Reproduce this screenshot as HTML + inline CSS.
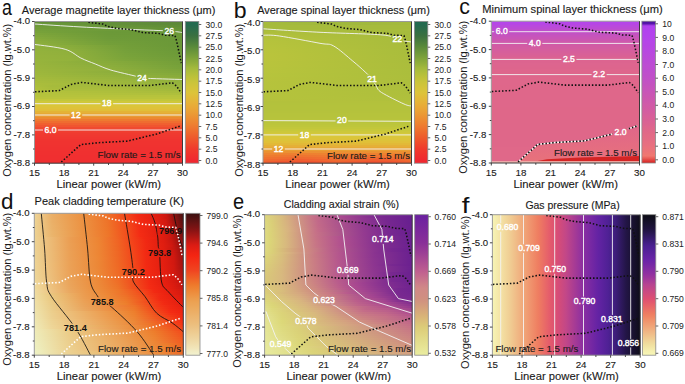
<!DOCTYPE html>
<html><head><meta charset="utf-8"><style>html,body{margin:0;padding:0;background:#fff;}svg{display:block}</style></head>
<body><svg width="685" height="384" viewBox="0 0 685 384" font-family="'Liberation Sans', sans-serif">
<defs><clipPath id="clip1"><rect x="34.5" y="21.5" width="148.0" height="141.7"/></clipPath><linearGradient id="g2"><stop offset="0.000" stop-color="#608d38"/><stop offset="0.497" stop-color="#618e38"/><stop offset="0.993" stop-color="#5c853c"/></linearGradient><linearGradient id="g3"><stop offset="0.000" stop-color="#6a9838"/><stop offset="0.993" stop-color="#5d8939"/></linearGradient><linearGradient id="g4"><stop offset="0.000" stop-color="#6e9b39"/><stop offset="0.993" stop-color="#608d38"/></linearGradient><linearGradient id="g5"><stop offset="0.000" stop-color="#729e39"/><stop offset="0.993" stop-color="#649138"/></linearGradient><linearGradient id="g6"><stop offset="0.000" stop-color="#75a03a"/><stop offset="0.993" stop-color="#679538"/></linearGradient><linearGradient id="g7"><stop offset="0.000" stop-color="#78a23a"/><stop offset="0.497" stop-color="#6b9938"/><stop offset="0.993" stop-color="#6a9738"/></linearGradient><linearGradient id="g8"><stop offset="0.000" stop-color="#7da53a"/><stop offset="0.497" stop-color="#6c9938"/><stop offset="0.993" stop-color="#6b9838"/></linearGradient><linearGradient id="g9"><stop offset="0.000" stop-color="#81a73b"/><stop offset="0.497" stop-color="#6d9a38"/><stop offset="0.993" stop-color="#6b9938"/></linearGradient><linearGradient id="g10"><stop offset="0.000" stop-color="#85aa3b"/><stop offset="0.497" stop-color="#6e9b39"/><stop offset="0.993" stop-color="#6b9838"/></linearGradient><linearGradient id="g11"><stop offset="0.000" stop-color="#89ac3b"/><stop offset="0.497" stop-color="#709c39"/><stop offset="0.993" stop-color="#6a9838"/></linearGradient><linearGradient id="g12"><stop offset="0.000" stop-color="#8cae3c"/><stop offset="0.497" stop-color="#729e39"/><stop offset="0.993" stop-color="#6a9838"/></linearGradient><linearGradient id="g13"><stop offset="0.000" stop-color="#8fb03c"/><stop offset="0.497" stop-color="#749f39"/><stop offset="0.993" stop-color="#6a9838"/></linearGradient><linearGradient id="g14"><stop offset="0.000" stop-color="#91b13c"/><stop offset="0.242" stop-color="#88ac3b"/><stop offset="0.617" stop-color="#739e39"/><stop offset="0.993" stop-color="#6a9838"/></linearGradient><linearGradient id="g15"><stop offset="0.000" stop-color="#92b13c"/><stop offset="0.242" stop-color="#8bad3c"/><stop offset="0.617" stop-color="#749f39"/><stop offset="0.993" stop-color="#6b9938"/></linearGradient><linearGradient id="g16"><stop offset="0.000" stop-color="#93b23c"/><stop offset="0.242" stop-color="#8eaf3c"/><stop offset="0.617" stop-color="#75a03a"/><stop offset="0.993" stop-color="#6b9938"/></linearGradient><linearGradient id="g17"><stop offset="0.000" stop-color="#94b23c"/><stop offset="0.242" stop-color="#90b03c"/><stop offset="0.617" stop-color="#76a13a"/><stop offset="0.993" stop-color="#6c9a38"/></linearGradient><linearGradient id="g18"><stop offset="0.000" stop-color="#95b23c"/><stop offset="0.242" stop-color="#91b03c"/><stop offset="0.617" stop-color="#78a23a"/><stop offset="0.993" stop-color="#6d9a38"/></linearGradient><linearGradient id="g19"><stop offset="0.000" stop-color="#96b33c"/><stop offset="0.242" stop-color="#92b13c"/><stop offset="0.617" stop-color="#79a33a"/><stop offset="0.993" stop-color="#6e9b39"/></linearGradient><linearGradient id="g20"><stop offset="0.000" stop-color="#96b33c"/><stop offset="0.242" stop-color="#93b13c"/><stop offset="0.617" stop-color="#7ba43a"/><stop offset="0.993" stop-color="#709c39"/></linearGradient><linearGradient id="g21"><stop offset="0.000" stop-color="#97b43c"/><stop offset="0.242" stop-color="#93b23c"/><stop offset="0.617" stop-color="#7da53a"/><stop offset="0.993" stop-color="#719d39"/></linearGradient><linearGradient id="g22"><stop offset="0.000" stop-color="#98b43c"/><stop offset="0.497" stop-color="#87ab3b"/><stop offset="0.993" stop-color="#739e39"/></linearGradient><linearGradient id="g23"><stop offset="0.000" stop-color="#99b43c"/><stop offset="0.497" stop-color="#8aac3b"/><stop offset="0.993" stop-color="#749f39"/></linearGradient><linearGradient id="g24"><stop offset="0.000" stop-color="#9ab53c"/><stop offset="0.497" stop-color="#8cae3c"/><stop offset="0.993" stop-color="#76a13a"/></linearGradient><linearGradient id="g25"><stop offset="0.000" stop-color="#9bb53c"/><stop offset="0.497" stop-color="#8faf3c"/><stop offset="0.993" stop-color="#78a23a"/></linearGradient><linearGradient id="g26"><stop offset="0.000" stop-color="#9cb63c"/><stop offset="0.497" stop-color="#91b03c"/><stop offset="0.993" stop-color="#7ca43a"/></linearGradient><linearGradient id="g27"><stop offset="0.000" stop-color="#9eb73c"/><stop offset="0.993" stop-color="#7fa63b"/></linearGradient><linearGradient id="g28"><stop offset="0.000" stop-color="#9fb83c"/><stop offset="0.993" stop-color="#83a93b"/></linearGradient><linearGradient id="g29"><stop offset="0.000" stop-color="#a1b93c"/><stop offset="0.993" stop-color="#88ab3b"/></linearGradient><linearGradient id="g30"><stop offset="0.000" stop-color="#a4ba3c"/><stop offset="0.993" stop-color="#8cae3c"/></linearGradient><linearGradient id="g31"><stop offset="0.000" stop-color="#a6bb3c"/><stop offset="0.993" stop-color="#91b03c"/></linearGradient><linearGradient id="g32"><stop offset="0.000" stop-color="#a8bc3c"/><stop offset="0.993" stop-color="#93b23c"/></linearGradient><linearGradient id="g33"><stop offset="0.000" stop-color="#abbd3c"/><stop offset="0.242" stop-color="#a5bb3c"/><stop offset="0.993" stop-color="#96b33c"/></linearGradient><linearGradient id="g34"><stop offset="0.000" stop-color="#adbf3c"/><stop offset="0.121" stop-color="#a6bb3c"/><stop offset="0.550" stop-color="#a4ba3c"/><stop offset="0.993" stop-color="#99b53c"/></linearGradient><linearGradient id="g35"><stop offset="0.000" stop-color="#b0c03c"/><stop offset="0.121" stop-color="#a8bc3c"/><stop offset="0.550" stop-color="#a8bc3c"/><stop offset="0.993" stop-color="#9db73c"/></linearGradient><linearGradient id="g36"><stop offset="0.000" stop-color="#b2c13c"/><stop offset="0.121" stop-color="#abbe3c"/><stop offset="0.550" stop-color="#abbe3c"/><stop offset="0.993" stop-color="#a2b93c"/></linearGradient><linearGradient id="g37"><stop offset="0.000" stop-color="#b4c23c"/><stop offset="0.993" stop-color="#a8bc3c"/></linearGradient><linearGradient id="g38"><stop offset="0.000" stop-color="#b5c33c"/><stop offset="0.993" stop-color="#aebf3c"/></linearGradient><mask id="m39" maskUnits="userSpaceOnUse" x="0" y="0" width="685" height="384"><rect x="0" y="0" width="685" height="384" fill="#fff"/><rect x="162.9" y="26.8" width="12.6" height="8.5" fill="#000"/><rect x="135.7" y="73.8" width="12.6" height="8.5" fill="#000"/><rect x="100.5" y="99.5" width="12.6" height="8.5" fill="#000"/><rect x="69.6" y="110.8" width="12.6" height="8.5" fill="#000"/><rect x="43.0" y="125.8" width="15.0" height="8.5" fill="#000"/></mask><linearGradient id="cb40" x1="0" y1="0" x2="0" y2="1"><stop offset="0.000" stop-color="#236a50"/><stop offset="0.025" stop-color="#256a4f"/><stop offset="0.050" stop-color="#2c6c4a"/><stop offset="0.075" stop-color="#336e45"/><stop offset="0.100" stop-color="#3a7040"/><stop offset="0.125" stop-color="#44783e"/><stop offset="0.150" stop-color="#4e803c"/><stop offset="0.175" stop-color="#58893a"/><stop offset="0.200" stop-color="#64913a"/><stop offset="0.225" stop-color="#70993a"/><stop offset="0.250" stop-color="#7ba13a"/><stop offset="0.275" stop-color="#88a93a"/><stop offset="0.300" stop-color="#94b03b"/><stop offset="0.325" stop-color="#a1b83c"/><stop offset="0.350" stop-color="#acbd3c"/><stop offset="0.375" stop-color="#b6c03b"/><stop offset="0.400" stop-color="#c0c23a"/><stop offset="0.425" stop-color="#c9c43a"/><stop offset="0.450" stop-color="#d0c43a"/><stop offset="0.475" stop-color="#d6c43a"/><stop offset="0.500" stop-color="#dcc43a"/><stop offset="0.525" stop-color="#e0be39"/><stop offset="0.550" stop-color="#e3b839"/><stop offset="0.575" stop-color="#e7b138"/><stop offset="0.600" stop-color="#e9aa37"/><stop offset="0.625" stop-color="#eaa336"/><stop offset="0.650" stop-color="#eb9b35"/><stop offset="0.675" stop-color="#ec9233"/><stop offset="0.700" stop-color="#ed8932"/><stop offset="0.725" stop-color="#ee8031"/><stop offset="0.750" stop-color="#ee7630"/><stop offset="0.775" stop-color="#ee6c2e"/><stop offset="0.800" stop-color="#ee622d"/><stop offset="0.825" stop-color="#ee582c"/><stop offset="0.850" stop-color="#ef4e2c"/><stop offset="0.875" stop-color="#ef442c"/><stop offset="0.900" stop-color="#f03a2c"/><stop offset="0.925" stop-color="#f0352d"/><stop offset="0.950" stop-color="#f02f2e"/><stop offset="0.975" stop-color="#f02930"/><stop offset="1.000" stop-color="#f02830"/></linearGradient><clipPath id="clip41"><rect x="263.0" y="21.5" width="148.5" height="141.7"/></clipPath><linearGradient id="g42"><stop offset="0.000" stop-color="#a6bb3c"/><stop offset="0.242" stop-color="#9cb63c"/><stop offset="0.993" stop-color="#a3ba3c"/></linearGradient><linearGradient id="g43"><stop offset="0.000" stop-color="#a6bb3c"/><stop offset="0.497" stop-color="#a0b83c"/><stop offset="0.993" stop-color="#a4ba3c"/></linearGradient><linearGradient id="g44"><stop offset="0.000" stop-color="#adbe3c"/><stop offset="0.993" stop-color="#a6bb3c"/></linearGradient><linearGradient id="g45"><stop offset="0.000" stop-color="#b0c03c"/><stop offset="0.993" stop-color="#a7bb3c"/></linearGradient><linearGradient id="g46"><stop offset="0.000" stop-color="#b3c13c"/><stop offset="0.993" stop-color="#a7bb3c"/></linearGradient><linearGradient id="g47"><stop offset="0.000" stop-color="#b4c23c"/><stop offset="0.993" stop-color="#a7bc3c"/></linearGradient><linearGradient id="g48"><stop offset="0.000" stop-color="#b5c33c"/><stop offset="0.993" stop-color="#a8bc3c"/></linearGradient><linearGradient id="g49"><stop offset="0.000" stop-color="#b6c33c"/><stop offset="0.993" stop-color="#a8bc3c"/></linearGradient><linearGradient id="g50"><stop offset="0.000" stop-color="#b7c33c"/><stop offset="0.993" stop-color="#a8bc3c"/></linearGradient><linearGradient id="g51"><stop offset="0.000" stop-color="#b7c43c"/><stop offset="0.993" stop-color="#a9bc3c"/></linearGradient><linearGradient id="g52"><stop offset="0.000" stop-color="#b8c43c"/><stop offset="0.993" stop-color="#a9bc3c"/></linearGradient><linearGradient id="g53"><stop offset="0.000" stop-color="#b9c43c"/><stop offset="0.993" stop-color="#a9bd3c"/></linearGradient><linearGradient id="g54"><stop offset="0.000" stop-color="#b9c43c"/><stop offset="0.993" stop-color="#a9bd3c"/></linearGradient><linearGradient id="g55"><stop offset="0.000" stop-color="#bac43c"/><stop offset="0.993" stop-color="#a9bd3c"/></linearGradient><linearGradient id="g56"><stop offset="0.000" stop-color="#bac43c"/><stop offset="0.993" stop-color="#aabd3c"/></linearGradient><linearGradient id="g57"><stop offset="0.000" stop-color="#bac43c"/><stop offset="0.993" stop-color="#aabd3c"/></linearGradient><linearGradient id="g58"><stop offset="0.000" stop-color="#bac43c"/><stop offset="0.993" stop-color="#aabd3c"/></linearGradient><linearGradient id="g59"><stop offset="0.000" stop-color="#b9c43c"/><stop offset="0.993" stop-color="#aabd3c"/></linearGradient><linearGradient id="g60"><stop offset="0.000" stop-color="#b9c43c"/><stop offset="0.993" stop-color="#abbd3c"/></linearGradient><linearGradient id="g61"><stop offset="0.000" stop-color="#b9c43c"/><stop offset="0.993" stop-color="#abbd3c"/></linearGradient><linearGradient id="g62"><stop offset="0.000" stop-color="#b8c43c"/><stop offset="0.993" stop-color="#abbd3c"/></linearGradient><linearGradient id="g63"><stop offset="0.000" stop-color="#b8c43c"/><stop offset="0.993" stop-color="#abbe3c"/></linearGradient><linearGradient id="g64"><stop offset="0.000" stop-color="#b8c43c"/><stop offset="0.993" stop-color="#abbe3c"/></linearGradient><linearGradient id="g65"><stop offset="0.000" stop-color="#b7c43c"/><stop offset="0.993" stop-color="#abbe3c"/></linearGradient><linearGradient id="g66"><stop offset="0.000" stop-color="#b7c43c"/><stop offset="0.993" stop-color="#acbe3c"/></linearGradient><linearGradient id="g67"><stop offset="0.000" stop-color="#b7c33c"/><stop offset="0.993" stop-color="#acbe3c"/></linearGradient><linearGradient id="g68"><stop offset="0.000" stop-color="#b7c33c"/><stop offset="0.993" stop-color="#acbe3c"/></linearGradient><linearGradient id="g69"><stop offset="0.000" stop-color="#b6c33c"/><stop offset="0.993" stop-color="#acbe3c"/></linearGradient><linearGradient id="g70"><stop offset="0.000" stop-color="#b6c33c"/><stop offset="0.993" stop-color="#adbe3c"/></linearGradient><linearGradient id="g71"><stop offset="0.000" stop-color="#b6c33c"/><stop offset="0.993" stop-color="#adbe3c"/></linearGradient><linearGradient id="g72"><stop offset="0.000" stop-color="#b6c33c"/><stop offset="0.993" stop-color="#adbf3c"/></linearGradient><linearGradient id="g73"><stop offset="0.000" stop-color="#b5c33c"/><stop offset="0.993" stop-color="#adbf3c"/></linearGradient><linearGradient id="g74"><stop offset="0.000" stop-color="#b5c33c"/><stop offset="0.993" stop-color="#aebf3c"/></linearGradient><linearGradient id="g75"><stop offset="0.000" stop-color="#b5c33c"/><stop offset="0.993" stop-color="#aebf3c"/></linearGradient><linearGradient id="g76"><stop offset="0.000" stop-color="#b5c33c"/><stop offset="0.993" stop-color="#afbf3c"/></linearGradient><linearGradient id="g77"><stop offset="0.000" stop-color="#b5c33c"/><stop offset="0.993" stop-color="#afc03c"/></linearGradient><linearGradient id="g78"><stop offset="0.000" stop-color="#b5c23c"/><stop offset="0.993" stop-color="#b0c03c"/></linearGradient><linearGradient id="g79"><stop offset="0.000" stop-color="#ed8631"/><stop offset="0.242" stop-color="#ee7f30"/><stop offset="0.430" stop-color="#ed8330"/><stop offset="0.711" stop-color="#ee7f30"/><stop offset="0.993" stop-color="#ed8631"/></linearGradient><linearGradient id="g80"><stop offset="0.000" stop-color="#ee7d30"/><stop offset="0.242" stop-color="#ef7330"/><stop offset="0.430" stop-color="#ee7930"/><stop offset="0.711" stop-color="#ef7330"/><stop offset="0.993" stop-color="#ee7c30"/></linearGradient><linearGradient id="g81"><stop offset="0.000" stop-color="#ef7430"/><stop offset="0.242" stop-color="#f06830"/><stop offset="0.430" stop-color="#ef7030"/><stop offset="0.564" stop-color="#ef7030"/><stop offset="0.779" stop-color="#f06730"/><stop offset="0.993" stop-color="#ef7430"/></linearGradient><linearGradient id="g82"><stop offset="0.000" stop-color="#ef6c30"/><stop offset="0.242" stop-color="#f05d30"/><stop offset="0.430" stop-color="#f06730"/><stop offset="0.497" stop-color="#ef6c30"/><stop offset="0.738" stop-color="#f05d30"/><stop offset="0.859" stop-color="#f05f30"/><stop offset="0.993" stop-color="#ef6c30"/></linearGradient><linearGradient id="g83"><stop offset="0.000" stop-color="#f06430"/><stop offset="0.121" stop-color="#f05630"/><stop offset="0.336" stop-color="#f05530"/><stop offset="0.497" stop-color="#f06430"/><stop offset="0.738" stop-color="#f05230"/><stop offset="0.859" stop-color="#f05530"/><stop offset="0.993" stop-color="#f06430"/></linearGradient><linearGradient id="g84"><stop offset="0.000" stop-color="#f05c30"/><stop offset="0.121" stop-color="#f04d30"/><stop offset="0.336" stop-color="#f04c30"/><stop offset="0.497" stop-color="#f05c30"/><stop offset="0.738" stop-color="#f04830"/><stop offset="0.859" stop-color="#f04b30"/><stop offset="0.993" stop-color="#f05b30"/></linearGradient><mask id="m85" maskUnits="userSpaceOnUse" x="0" y="0" width="685" height="384"><rect x="0" y="0" width="685" height="384" fill="#fff"/><rect x="390.9" y="35.5" width="12.6" height="8.5" fill="#000"/><rect x="365.7" y="74.7" width="12.6" height="8.5" fill="#000"/><rect x="335.6" y="116.5" width="12.6" height="8.5" fill="#000"/><rect x="298.2" y="130.7" width="12.6" height="8.5" fill="#000"/><rect x="272.2" y="144.8" width="12.6" height="8.5" fill="#000"/></mask><linearGradient id="cb86" x1="0" y1="0" x2="0" y2="1"><stop offset="0.000" stop-color="#236a50"/><stop offset="0.025" stop-color="#256a4f"/><stop offset="0.050" stop-color="#2c6c4a"/><stop offset="0.075" stop-color="#336e45"/><stop offset="0.100" stop-color="#3a7040"/><stop offset="0.125" stop-color="#44783e"/><stop offset="0.150" stop-color="#4e803c"/><stop offset="0.175" stop-color="#58893a"/><stop offset="0.200" stop-color="#64913a"/><stop offset="0.225" stop-color="#70993a"/><stop offset="0.250" stop-color="#7ba13a"/><stop offset="0.275" stop-color="#88a93a"/><stop offset="0.300" stop-color="#94b03b"/><stop offset="0.325" stop-color="#a1b83c"/><stop offset="0.350" stop-color="#acbd3c"/><stop offset="0.375" stop-color="#b6c03b"/><stop offset="0.400" stop-color="#c0c23a"/><stop offset="0.425" stop-color="#c9c43a"/><stop offset="0.450" stop-color="#d0c43a"/><stop offset="0.475" stop-color="#d6c43a"/><stop offset="0.500" stop-color="#dcc43a"/><stop offset="0.525" stop-color="#e0be39"/><stop offset="0.550" stop-color="#e3b839"/><stop offset="0.575" stop-color="#e7b138"/><stop offset="0.600" stop-color="#e9aa37"/><stop offset="0.625" stop-color="#eaa336"/><stop offset="0.650" stop-color="#eb9b35"/><stop offset="0.675" stop-color="#ec9233"/><stop offset="0.700" stop-color="#ed8932"/><stop offset="0.725" stop-color="#ee8031"/><stop offset="0.750" stop-color="#ee7630"/><stop offset="0.775" stop-color="#ee6c2e"/><stop offset="0.800" stop-color="#ee622d"/><stop offset="0.825" stop-color="#ee582c"/><stop offset="0.850" stop-color="#ef4e2c"/><stop offset="0.875" stop-color="#ef442c"/><stop offset="0.900" stop-color="#f03a2c"/><stop offset="0.925" stop-color="#f0352d"/><stop offset="0.950" stop-color="#f02f2e"/><stop offset="0.975" stop-color="#f02930"/><stop offset="1.000" stop-color="#f02830"/></linearGradient><clipPath id="clip87"><rect x="491.3" y="21.2" width="148.2" height="141.8"/></clipPath><linearGradient id="csal" x1="0" y1="0" x2="0" y2="1"><stop offset="0" stop-color="#e0668a"/><stop offset="1" stop-color="#e8727a"/></linearGradient><mask id="m88" maskUnits="userSpaceOnUse" x="0" y="0" width="685" height="384"><rect x="0" y="0" width="685" height="384" fill="#fff"/><rect x="494.2" y="27.4" width="15.0" height="8.5" fill="#000"/><rect x="527.3" y="39.1" width="15.0" height="8.5" fill="#000"/><rect x="561.4" y="55.1" width="15.0" height="8.5" fill="#000"/><rect x="591.6" y="70.3" width="15.0" height="8.5" fill="#000"/></mask><mask id="m89" maskUnits="userSpaceOnUse" x="0" y="0" width="685" height="384"><rect x="0" y="0" width="685" height="384" fill="#fff"/><rect x="612.6" y="128.2" width="16.0" height="8.5" fill="#000"/></mask><linearGradient id="cb90" x1="0" y1="0" x2="0" y2="1"><stop offset="0.000" stop-color="#4a10a0"/><stop offset="0.017" stop-color="#5616aa"/><stop offset="0.033" stop-color="#af40ef"/><stop offset="0.050" stop-color="#b141ef"/><stop offset="0.067" stop-color="#b242ee"/><stop offset="0.083" stop-color="#b343ed"/><stop offset="0.100" stop-color="#b343ed"/><stop offset="0.117" stop-color="#b444eb"/><stop offset="0.133" stop-color="#b545e9"/><stop offset="0.150" stop-color="#b646e7"/><stop offset="0.167" stop-color="#b646e5"/><stop offset="0.183" stop-color="#b747e3"/><stop offset="0.200" stop-color="#b848e1"/><stop offset="0.217" stop-color="#b848df"/><stop offset="0.233" stop-color="#b949dd"/><stop offset="0.250" stop-color="#ba4ada"/><stop offset="0.267" stop-color="#bb4bd8"/><stop offset="0.283" stop-color="#bb4bd6"/><stop offset="0.300" stop-color="#bc4cd4"/><stop offset="0.317" stop-color="#bd4dd2"/><stop offset="0.333" stop-color="#bd4dd0"/><stop offset="0.350" stop-color="#be4ece"/><stop offset="0.367" stop-color="#bf4fcc"/><stop offset="0.383" stop-color="#bf4fca"/><stop offset="0.400" stop-color="#c050c8"/><stop offset="0.417" stop-color="#c251c5"/><stop offset="0.433" stop-color="#c352c2"/><stop offset="0.450" stop-color="#c453bf"/><stop offset="0.467" stop-color="#c654bc"/><stop offset="0.483" stop-color="#c755ba"/><stop offset="0.500" stop-color="#c955b7"/><stop offset="0.517" stop-color="#ca56b4"/><stop offset="0.533" stop-color="#cb57b1"/><stop offset="0.550" stop-color="#cd58ae"/><stop offset="0.567" stop-color="#ce59ac"/><stop offset="0.583" stop-color="#d05aa9"/><stop offset="0.600" stop-color="#d15ba6"/><stop offset="0.617" stop-color="#d25ca3"/><stop offset="0.633" stop-color="#d45da1"/><stop offset="0.650" stop-color="#d55e9e"/><stop offset="0.667" stop-color="#d75f9b"/><stop offset="0.683" stop-color="#d86098"/><stop offset="0.700" stop-color="#d96195"/><stop offset="0.717" stop-color="#db6393"/><stop offset="0.733" stop-color="#dc6490"/><stop offset="0.750" stop-color="#de668d"/><stop offset="0.767" stop-color="#df678a"/><stop offset="0.783" stop-color="#e06888"/><stop offset="0.800" stop-color="#e26a86"/><stop offset="0.817" stop-color="#e36b85"/><stop offset="0.833" stop-color="#e46c84"/><stop offset="0.850" stop-color="#e66e82"/><stop offset="0.867" stop-color="#e76f81"/><stop offset="0.883" stop-color="#e9717e"/><stop offset="0.900" stop-color="#eb737b"/><stop offset="0.917" stop-color="#ec7477"/><stop offset="0.933" stop-color="#ee7674"/><stop offset="0.950" stop-color="#f07870"/><stop offset="0.967" stop-color="#e95d58"/><stop offset="0.983" stop-color="#e03f3c"/><stop offset="1.000" stop-color="#d82020"/></linearGradient><clipPath id="clip91"><rect x="34.3" y="213.3" width="149.0" height="141.89999999999998"/></clipPath><linearGradient id="g92"><stop offset="0.000" stop-color="#eed597"/><stop offset="0.120" stop-color="#eaaf67"/><stop offset="0.333" stop-color="#ec9040"/><stop offset="0.493" stop-color="#ee7028"/><stop offset="0.613" stop-color="#f2481b"/><stop offset="0.693" stop-color="#f22a13"/><stop offset="0.840" stop-color="#da1b10"/><stop offset="0.880" stop-color="#cb1710"/><stop offset="1.000" stop-color="#401010"/></linearGradient><linearGradient id="g93"><stop offset="0.000" stop-color="#eed597"/><stop offset="0.120" stop-color="#eaaf67"/><stop offset="0.333" stop-color="#ec9040"/><stop offset="0.493" stop-color="#ee7128"/><stop offset="0.613" stop-color="#f2491b"/><stop offset="0.693" stop-color="#f22a13"/><stop offset="0.760" stop-color="#ec2311"/><stop offset="0.880" stop-color="#cf1810"/><stop offset="1.000" stop-color="#421010"/></linearGradient><linearGradient id="g94"><stop offset="0.000" stop-color="#eed596"/><stop offset="0.120" stop-color="#eaaf67"/><stop offset="0.333" stop-color="#ec9040"/><stop offset="0.493" stop-color="#ee7228"/><stop offset="0.613" stop-color="#f24a1b"/><stop offset="0.693" stop-color="#f32b14"/><stop offset="0.840" stop-color="#dd1c10"/><stop offset="0.893" stop-color="#c61710"/><stop offset="1.000" stop-color="#471010"/></linearGradient><linearGradient id="g95"><stop offset="0.000" stop-color="#edd496"/><stop offset="0.120" stop-color="#eab068"/><stop offset="0.333" stop-color="#ec9040"/><stop offset="0.493" stop-color="#ee7328"/><stop offset="0.613" stop-color="#f24b1c"/><stop offset="0.707" stop-color="#f22913"/><stop offset="0.773" stop-color="#ec2211"/><stop offset="0.880" stop-color="#d21910"/><stop offset="1.000" stop-color="#4d1010"/></linearGradient><linearGradient id="g96"><stop offset="0.000" stop-color="#edd495"/><stop offset="0.120" stop-color="#eab068"/><stop offset="0.333" stop-color="#ec9141"/><stop offset="0.493" stop-color="#ee7329"/><stop offset="0.613" stop-color="#f24c1c"/><stop offset="0.707" stop-color="#f22a13"/><stop offset="0.773" stop-color="#ec2311"/><stop offset="0.880" stop-color="#d31910"/><stop offset="0.920" stop-color="#ad1410"/><stop offset="1.000" stop-color="#521010"/></linearGradient><linearGradient id="g97"><stop offset="0.000" stop-color="#edd495"/><stop offset="0.120" stop-color="#eab169"/><stop offset="0.333" stop-color="#ec9141"/><stop offset="0.493" stop-color="#ee7429"/><stop offset="0.613" stop-color="#f24d1c"/><stop offset="0.707" stop-color="#f22a13"/><stop offset="0.773" stop-color="#ed2311"/><stop offset="0.880" stop-color="#d41910"/><stop offset="0.907" stop-color="#c01610"/><stop offset="1.000" stop-color="#571010"/></linearGradient><linearGradient id="g98"><stop offset="0.000" stop-color="#edd394"/><stop offset="0.120" stop-color="#eab26a"/><stop offset="0.333" stop-color="#ec9141"/><stop offset="0.493" stop-color="#ee7429"/><stop offset="0.613" stop-color="#f24d1c"/><stop offset="0.707" stop-color="#f32a13"/><stop offset="0.773" stop-color="#ed2411"/><stop offset="0.880" stop-color="#d51a10"/><stop offset="0.907" stop-color="#c21610"/><stop offset="1.000" stop-color="#5c1010"/></linearGradient><linearGradient id="g99"><stop offset="0.000" stop-color="#edd394"/><stop offset="0.120" stop-color="#eab26a"/><stop offset="0.333" stop-color="#ec9141"/><stop offset="0.493" stop-color="#ee7529"/><stop offset="0.613" stop-color="#f24e1d"/><stop offset="0.707" stop-color="#f32b14"/><stop offset="0.773" stop-color="#ed2411"/><stop offset="0.880" stop-color="#d61a10"/><stop offset="0.920" stop-color="#b61510"/><stop offset="1.000" stop-color="#611010"/></linearGradient><linearGradient id="g100"><stop offset="0.000" stop-color="#edd394"/><stop offset="0.120" stop-color="#eab36b"/><stop offset="0.333" stop-color="#ec9142"/><stop offset="0.493" stop-color="#ee7529"/><stop offset="0.613" stop-color="#f24f1d"/><stop offset="0.707" stop-color="#f32b14"/><stop offset="0.853" stop-color="#df1d10"/><stop offset="0.907" stop-color="#c71710"/><stop offset="1.000" stop-color="#651010"/></linearGradient><linearGradient id="g101"><stop offset="0.000" stop-color="#edd394"/><stop offset="0.120" stop-color="#eab46c"/><stop offset="0.333" stop-color="#ec9242"/><stop offset="0.493" stop-color="#ee7629"/><stop offset="0.613" stop-color="#f2501d"/><stop offset="0.707" stop-color="#f32b14"/><stop offset="0.853" stop-color="#e01d10"/><stop offset="0.907" stop-color="#ca1710"/><stop offset="1.000" stop-color="#691010"/></linearGradient><linearGradient id="g102"><stop offset="0.000" stop-color="#edd394"/><stop offset="0.120" stop-color="#eab46c"/><stop offset="0.333" stop-color="#ec9242"/><stop offset="0.493" stop-color="#ee762a"/><stop offset="0.613" stop-color="#f2501d"/><stop offset="0.707" stop-color="#f42c14"/><stop offset="0.853" stop-color="#e01d10"/><stop offset="0.907" stop-color="#cc1810"/><stop offset="1.000" stop-color="#6e1010"/></linearGradient><linearGradient id="g103"><stop offset="0.000" stop-color="#edd394"/><stop offset="0.120" stop-color="#eab56d"/><stop offset="0.333" stop-color="#ec9243"/><stop offset="0.493" stop-color="#ee772a"/><stop offset="0.613" stop-color="#f2511e"/><stop offset="0.707" stop-color="#f42c14"/><stop offset="0.853" stop-color="#e11d10"/><stop offset="0.907" stop-color="#ce1810"/><stop offset="1.000" stop-color="#721010"/></linearGradient><linearGradient id="g104"><stop offset="0.000" stop-color="#edd394"/><stop offset="0.240" stop-color="#eb9e53"/><stop offset="0.427" stop-color="#ed8534"/><stop offset="0.560" stop-color="#f06323"/><stop offset="0.667" stop-color="#f33d18"/><stop offset="0.733" stop-color="#f22913"/><stop offset="0.800" stop-color="#ec2311"/><stop offset="0.893" stop-color="#d51910"/><stop offset="0.920" stop-color="#c31610"/><stop offset="1.000" stop-color="#761010"/></linearGradient><linearGradient id="g105"><stop offset="0.000" stop-color="#edd394"/><stop offset="0.240" stop-color="#eb9e53"/><stop offset="0.427" stop-color="#ed8534"/><stop offset="0.560" stop-color="#f06424"/><stop offset="0.667" stop-color="#f33e19"/><stop offset="0.747" stop-color="#f12813"/><stop offset="0.867" stop-color="#de1c10"/><stop offset="0.920" stop-color="#c61710"/><stop offset="1.000" stop-color="#7a1010"/></linearGradient><linearGradient id="g106"><stop offset="0.000" stop-color="#edd394"/><stop offset="0.240" stop-color="#eb9e53"/><stop offset="0.427" stop-color="#ed8534"/><stop offset="0.560" stop-color="#f06424"/><stop offset="0.667" stop-color="#f33f19"/><stop offset="0.747" stop-color="#f12813"/><stop offset="0.867" stop-color="#de1c10"/><stop offset="0.920" stop-color="#c91710"/><stop offset="1.000" stop-color="#7e1010"/></linearGradient><linearGradient id="g107"><stop offset="0.000" stop-color="#edd394"/><stop offset="0.240" stop-color="#eb9f54"/><stop offset="0.427" stop-color="#ed8634"/><stop offset="0.560" stop-color="#f06524"/><stop offset="0.667" stop-color="#f34019"/><stop offset="0.747" stop-color="#f12913"/><stop offset="0.867" stop-color="#df1d10"/><stop offset="0.920" stop-color="#cc1710"/><stop offset="1.000" stop-color="#831010"/></linearGradient><linearGradient id="g108"><stop offset="0.000" stop-color="#edd394"/><stop offset="0.240" stop-color="#eb9f54"/><stop offset="0.427" stop-color="#ed8635"/><stop offset="0.560" stop-color="#ef6524"/><stop offset="0.667" stop-color="#f34119"/><stop offset="0.747" stop-color="#f12913"/><stop offset="0.867" stop-color="#df1d10"/><stop offset="0.920" stop-color="#cf1810"/><stop offset="1.000" stop-color="#871010"/></linearGradient><linearGradient id="g109"><stop offset="0.000" stop-color="#edd394"/><stop offset="0.240" stop-color="#eb9f54"/><stop offset="0.427" stop-color="#ed8635"/><stop offset="0.560" stop-color="#ef6624"/><stop offset="0.667" stop-color="#f34219"/><stop offset="0.747" stop-color="#f12913"/><stop offset="0.867" stop-color="#e01d10"/><stop offset="0.933" stop-color="#c61710"/><stop offset="1.000" stop-color="#8b1010"/></linearGradient><linearGradient id="g110"><stop offset="0.000" stop-color="#edd394"/><stop offset="0.240" stop-color="#eb9f55"/><stop offset="0.427" stop-color="#ed8635"/><stop offset="0.560" stop-color="#ef6624"/><stop offset="0.667" stop-color="#f3421a"/><stop offset="0.747" stop-color="#f22913"/><stop offset="0.867" stop-color="#e11d10"/><stop offset="0.933" stop-color="#c91710"/><stop offset="1.000" stop-color="#8e1010"/></linearGradient><linearGradient id="g111"><stop offset="0.000" stop-color="#edd395"/><stop offset="0.240" stop-color="#eba055"/><stop offset="0.427" stop-color="#ed8635"/><stop offset="0.560" stop-color="#ef6725"/><stop offset="0.667" stop-color="#f3431a"/><stop offset="0.747" stop-color="#f22913"/><stop offset="0.867" stop-color="#e11d10"/><stop offset="0.933" stop-color="#cb1710"/><stop offset="1.000" stop-color="#911010"/></linearGradient><linearGradient id="g112"><stop offset="0.000" stop-color="#edd495"/><stop offset="0.240" stop-color="#eba055"/><stop offset="0.427" stop-color="#ed8635"/><stop offset="0.560" stop-color="#ef6725"/><stop offset="0.667" stop-color="#f3441a"/><stop offset="0.747" stop-color="#f22913"/><stop offset="0.867" stop-color="#e21d10"/><stop offset="0.933" stop-color="#cd1810"/><stop offset="1.000" stop-color="#931010"/></linearGradient><linearGradient id="g113"><stop offset="0.000" stop-color="#edd495"/><stop offset="0.240" stop-color="#eba055"/><stop offset="0.427" stop-color="#ed8735"/><stop offset="0.560" stop-color="#ef6725"/><stop offset="0.667" stop-color="#f2451a"/><stop offset="0.747" stop-color="#f22a13"/><stop offset="0.867" stop-color="#e21e10"/><stop offset="0.933" stop-color="#cf1810"/><stop offset="1.000" stop-color="#961110"/></linearGradient><linearGradient id="g114"><stop offset="0.000" stop-color="#edd495"/><stop offset="0.240" stop-color="#eba056"/><stop offset="0.427" stop-color="#ed8736"/><stop offset="0.560" stop-color="#ef6825"/><stop offset="0.667" stop-color="#f2451a"/><stop offset="0.747" stop-color="#f22a13"/><stop offset="0.867" stop-color="#e21e10"/><stop offset="0.933" stop-color="#d01810"/><stop offset="1.000" stop-color="#981110"/></linearGradient><linearGradient id="g115"><stop offset="0.000" stop-color="#edd496"/><stop offset="0.240" stop-color="#eba056"/><stop offset="0.427" stop-color="#ed8736"/><stop offset="0.560" stop-color="#ef6825"/><stop offset="0.667" stop-color="#f2461a"/><stop offset="0.747" stop-color="#f22a13"/><stop offset="0.867" stop-color="#e31e10"/><stop offset="0.933" stop-color="#d11810"/><stop offset="1.000" stop-color="#9a1110"/></linearGradient><linearGradient id="g116"><stop offset="0.000" stop-color="#edd496"/><stop offset="0.240" stop-color="#eba156"/><stop offset="0.427" stop-color="#ec8736"/><stop offset="0.560" stop-color="#ef6825"/><stop offset="0.667" stop-color="#f2471b"/><stop offset="0.747" stop-color="#f22a13"/><stop offset="0.867" stop-color="#e31e10"/><stop offset="0.933" stop-color="#d11810"/><stop offset="1.000" stop-color="#9c1210"/></linearGradient><linearGradient id="g117"><stop offset="0.000" stop-color="#eed596"/><stop offset="0.240" stop-color="#eba156"/><stop offset="0.427" stop-color="#ec8736"/><stop offset="0.560" stop-color="#ef6925"/><stop offset="0.667" stop-color="#f2471b"/><stop offset="0.747" stop-color="#f22a13"/><stop offset="0.867" stop-color="#e31e10"/><stop offset="0.933" stop-color="#d11810"/><stop offset="1.000" stop-color="#9e1210"/></linearGradient><linearGradient id="g118"><stop offset="0.000" stop-color="#eed596"/><stop offset="0.240" stop-color="#eba156"/><stop offset="0.427" stop-color="#ec8736"/><stop offset="0.560" stop-color="#ef6925"/><stop offset="0.667" stop-color="#f2481b"/><stop offset="0.747" stop-color="#f32a13"/><stop offset="0.867" stop-color="#e31e10"/><stop offset="0.933" stop-color="#d21910"/><stop offset="1.000" stop-color="#a01210"/></linearGradient><linearGradient id="g119"><stop offset="0.000" stop-color="#eed597"/><stop offset="0.240" stop-color="#eba157"/><stop offset="0.427" stop-color="#ec8737"/><stop offset="0.560" stop-color="#ef6a25"/><stop offset="0.667" stop-color="#f2491b"/><stop offset="0.747" stop-color="#f32a13"/><stop offset="0.867" stop-color="#e41e10"/><stop offset="0.933" stop-color="#d21910"/><stop offset="1.000" stop-color="#a21210"/></linearGradient><linearGradient id="g120"><stop offset="0.000" stop-color="#eed697"/><stop offset="0.240" stop-color="#eba157"/><stop offset="0.427" stop-color="#ec8837"/><stop offset="0.560" stop-color="#ef6a26"/><stop offset="0.667" stop-color="#f2491b"/><stop offset="0.747" stop-color="#f32a13"/><stop offset="0.867" stop-color="#e41e10"/><stop offset="0.933" stop-color="#d21910"/><stop offset="1.000" stop-color="#a51310"/></linearGradient><linearGradient id="g121"><stop offset="0.000" stop-color="#eed698"/><stop offset="0.240" stop-color="#eba257"/><stop offset="0.427" stop-color="#ec8837"/><stop offset="0.560" stop-color="#ef6a26"/><stop offset="0.667" stop-color="#f24a1b"/><stop offset="0.747" stop-color="#f32b14"/><stop offset="0.867" stop-color="#e41e10"/><stop offset="0.933" stop-color="#d31910"/><stop offset="1.000" stop-color="#a71310"/></linearGradient><linearGradient id="g122"><stop offset="0.000" stop-color="#eed698"/><stop offset="0.240" stop-color="#eba258"/><stop offset="0.427" stop-color="#ec8837"/><stop offset="0.560" stop-color="#ef6b26"/><stop offset="0.667" stop-color="#f24a1c"/><stop offset="0.747" stop-color="#f32b14"/><stop offset="0.867" stop-color="#e51e10"/><stop offset="0.933" stop-color="#d41910"/><stop offset="1.000" stop-color="#aa1310"/></linearGradient><linearGradient id="g123"><stop offset="0.000" stop-color="#eed799"/><stop offset="0.240" stop-color="#eaa258"/><stop offset="0.427" stop-color="#ec8837"/><stop offset="0.560" stop-color="#ef6b26"/><stop offset="0.667" stop-color="#f24a1c"/><stop offset="0.747" stop-color="#f32b14"/><stop offset="0.867" stop-color="#e51e10"/><stop offset="0.933" stop-color="#d41910"/><stop offset="1.000" stop-color="#ad1410"/></linearGradient><linearGradient id="g124"><stop offset="0.000" stop-color="#eed79a"/><stop offset="0.240" stop-color="#eaa359"/><stop offset="0.427" stop-color="#ec8938"/><stop offset="0.560" stop-color="#ef6c26"/><stop offset="0.773" stop-color="#f12813"/><stop offset="0.880" stop-color="#e21d10"/><stop offset="0.933" stop-color="#d51a10"/><stop offset="0.987" stop-color="#ba1510"/><stop offset="1.000" stop-color="#b01410"/></linearGradient><linearGradient id="g125"><stop offset="0.000" stop-color="#efd89b"/><stop offset="0.240" stop-color="#eaa359"/><stop offset="0.427" stop-color="#ec8938"/><stop offset="0.560" stop-color="#ef6d27"/><stop offset="0.773" stop-color="#f12913"/><stop offset="0.880" stop-color="#e21e10"/><stop offset="0.933" stop-color="#d61a10"/><stop offset="0.973" stop-color="#c71710"/><stop offset="1.000" stop-color="#b41510"/></linearGradient><linearGradient id="g126"><stop offset="0.000" stop-color="#efd99c"/><stop offset="0.240" stop-color="#eaa45a"/><stop offset="0.427" stop-color="#ec8a39"/><stop offset="0.560" stop-color="#ef6e27"/><stop offset="0.773" stop-color="#f22913"/><stop offset="0.880" stop-color="#e31e10"/><stop offset="0.933" stop-color="#d71a10"/><stop offset="0.987" stop-color="#c21610"/><stop offset="1.000" stop-color="#b91510"/></linearGradient><linearGradient id="g127"><stop offset="0.000" stop-color="#efda9d"/><stop offset="0.240" stop-color="#eaa45b"/><stop offset="0.427" stop-color="#ec8a3a"/><stop offset="0.560" stop-color="#ee7028"/><stop offset="0.773" stop-color="#f22a13"/><stop offset="0.880" stop-color="#e51e10"/><stop offset="0.933" stop-color="#d91b10"/><stop offset="0.987" stop-color="#c71710"/><stop offset="1.000" stop-color="#bd1610"/></linearGradient><linearGradient id="g128"><stop offset="0.000" stop-color="#f0db9e"/><stop offset="0.240" stop-color="#eaa55c"/><stop offset="0.427" stop-color="#ec8b3a"/><stop offset="0.560" stop-color="#ee7228"/><stop offset="0.773" stop-color="#f32b14"/><stop offset="0.880" stop-color="#e71f10"/><stop offset="0.933" stop-color="#db1b10"/><stop offset="1.000" stop-color="#c31610"/></linearGradient><linearGradient id="g129"><stop offset="0.000" stop-color="#f0dc9f"/><stop offset="0.240" stop-color="#eaa65d"/><stop offset="0.427" stop-color="#ec8c3b"/><stop offset="0.560" stop-color="#ee7429"/><stop offset="0.773" stop-color="#f42b14"/><stop offset="0.880" stop-color="#ea2010"/><stop offset="1.000" stop-color="#c91710"/></linearGradient><linearGradient id="g130"><stop offset="0.000" stop-color="#f0dda1"/><stop offset="0.240" stop-color="#eaa75f"/><stop offset="0.427" stop-color="#ec8d3c"/><stop offset="0.560" stop-color="#ee772a"/><stop offset="0.667" stop-color="#f15720"/><stop offset="0.747" stop-color="#f33a18"/><stop offset="0.800" stop-color="#f22913"/><stop offset="0.893" stop-color="#e82010"/><stop offset="1.000" stop-color="#cf1810"/></linearGradient><linearGradient id="g131"><stop offset="0.000" stop-color="#f0dda2"/><stop offset="0.240" stop-color="#eaa860"/><stop offset="0.427" stop-color="#ec8e3d"/><stop offset="0.560" stop-color="#ed792b"/><stop offset="0.667" stop-color="#f15b21"/><stop offset="0.747" stop-color="#f33f19"/><stop offset="0.800" stop-color="#f22a13"/><stop offset="0.893" stop-color="#ea2010"/><stop offset="1.000" stop-color="#d21910"/></linearGradient><linearGradient id="g132"><stop offset="0.000" stop-color="#f0dea3"/><stop offset="0.120" stop-color="#eac57d"/><stop offset="0.333" stop-color="#eb9c50"/><stop offset="0.493" stop-color="#ed8635"/><stop offset="0.613" stop-color="#ef6d27"/><stop offset="0.707" stop-color="#f1521e"/><stop offset="0.773" stop-color="#f33617"/><stop offset="0.867" stop-color="#ed2411"/><stop offset="1.000" stop-color="#d41910"/></linearGradient><linearGradient id="g133"><stop offset="0.000" stop-color="#f0dfa4"/><stop offset="0.120" stop-color="#eac77f"/><stop offset="0.333" stop-color="#eb9d51"/><stop offset="0.493" stop-color="#ec8837"/><stop offset="0.613" stop-color="#ee7128"/><stop offset="0.707" stop-color="#f1561f"/><stop offset="0.773" stop-color="#f33b18"/><stop offset="0.840" stop-color="#f12813"/><stop offset="0.920" stop-color="#ea2010"/><stop offset="1.000" stop-color="#d71a10"/></linearGradient><linearGradient id="g134"><stop offset="0.000" stop-color="#f0dfa5"/><stop offset="0.120" stop-color="#eac881"/><stop offset="0.333" stop-color="#eb9e53"/><stop offset="0.493" stop-color="#ec8938"/><stop offset="0.613" stop-color="#ee7529"/><stop offset="0.707" stop-color="#f15920"/><stop offset="0.773" stop-color="#f33f19"/><stop offset="0.840" stop-color="#f12913"/><stop offset="0.920" stop-color="#eb2110"/><stop offset="1.000" stop-color="#da1b10"/></linearGradient><linearGradient id="g135"><stop offset="0.000" stop-color="#f0e0a6"/><stop offset="0.120" stop-color="#eac982"/><stop offset="0.333" stop-color="#eba055"/><stop offset="0.493" stop-color="#ec8b3a"/><stop offset="0.613" stop-color="#ee782a"/><stop offset="0.707" stop-color="#f05d21"/><stop offset="0.773" stop-color="#f3441a"/><stop offset="0.840" stop-color="#f22a13"/><stop offset="0.920" stop-color="#ec2311"/><stop offset="1.000" stop-color="#dd1c10"/></linearGradient><linearGradient id="g136"><stop offset="0.000" stop-color="#f0e1a8"/><stop offset="0.120" stop-color="#ebca84"/><stop offset="0.333" stop-color="#eba157"/><stop offset="0.493" stop-color="#ec8d3d"/><stop offset="0.613" stop-color="#ed7c2b"/><stop offset="0.800" stop-color="#f33b18"/><stop offset="0.867" stop-color="#f12913"/><stop offset="1.000" stop-color="#e01d10"/></linearGradient><linearGradient id="g137"><stop offset="0.000" stop-color="#f0e1a9"/><stop offset="0.120" stop-color="#ebcb86"/><stop offset="0.333" stop-color="#eaa359"/><stop offset="0.493" stop-color="#ec8f3f"/><stop offset="0.613" stop-color="#ed7f2d"/><stop offset="0.800" stop-color="#f34019"/><stop offset="0.867" stop-color="#f22a13"/><stop offset="1.000" stop-color="#e31e10"/></linearGradient><linearGradient id="g138"><stop offset="0.000" stop-color="#efe2aa"/><stop offset="0.120" stop-color="#ebcc88"/><stop offset="0.333" stop-color="#eaa45b"/><stop offset="0.667" stop-color="#ee7429"/><stop offset="0.827" stop-color="#f33817"/><stop offset="0.907" stop-color="#f02813"/><stop offset="1.000" stop-color="#e61f10"/></linearGradient><linearGradient id="g139"><stop offset="0.000" stop-color="#efe3ab"/><stop offset="0.120" stop-color="#ebcd89"/><stop offset="0.333" stop-color="#eaa65e"/><stop offset="0.667" stop-color="#ee782a"/><stop offset="0.827" stop-color="#f33d18"/><stop offset="0.907" stop-color="#f12913"/><stop offset="1.000" stop-color="#ea2010"/></linearGradient><linearGradient id="g140"><stop offset="0.000" stop-color="#efe4ad"/><stop offset="0.120" stop-color="#ebcd8b"/><stop offset="0.333" stop-color="#eaa860"/><stop offset="0.667" stop-color="#ed7b2b"/><stop offset="0.827" stop-color="#f34119"/><stop offset="0.907" stop-color="#f32a13"/><stop offset="1.000" stop-color="#eb2211"/></linearGradient><linearGradient id="g141"><stop offset="0.000" stop-color="#efe5ae"/><stop offset="0.120" stop-color="#ecce8c"/><stop offset="0.560" stop-color="#ec8f3f"/><stop offset="0.667" stop-color="#ed7f2d"/><stop offset="0.827" stop-color="#f2461b"/><stop offset="0.907" stop-color="#f42c14"/><stop offset="1.000" stop-color="#ed2311"/></linearGradient><linearGradient id="g142"><stop offset="0.000" stop-color="#efe5af"/><stop offset="0.120" stop-color="#eccf8e"/><stop offset="0.560" stop-color="#ec9141"/><stop offset="0.667" stop-color="#ed812f"/><stop offset="0.827" stop-color="#f24c1c"/><stop offset="0.907" stop-color="#f43216"/><stop offset="1.000" stop-color="#ee2512"/></linearGradient><linearGradient id="g143"><stop offset="0.000" stop-color="#efe6b1"/><stop offset="0.120" stop-color="#eccf8f"/><stop offset="0.560" stop-color="#ec9243"/><stop offset="0.667" stop-color="#ed8331"/><stop offset="0.827" stop-color="#f2511e"/><stop offset="0.907" stop-color="#f33917"/><stop offset="1.000" stop-color="#ef2712"/></linearGradient><linearGradient id="g144"><stop offset="0.000" stop-color="#efe7b2"/><stop offset="0.120" stop-color="#ecd090"/><stop offset="0.560" stop-color="#ec9446"/><stop offset="0.667" stop-color="#ed8534"/><stop offset="0.827" stop-color="#f1561f"/><stop offset="0.907" stop-color="#f34019"/><stop offset="0.987" stop-color="#f22a13"/><stop offset="1.000" stop-color="#f12813"/></linearGradient><linearGradient id="g145"><stop offset="0.000" stop-color="#efe8b3"/><stop offset="0.120" stop-color="#edd292"/><stop offset="0.560" stop-color="#ec9648"/><stop offset="0.667" stop-color="#ec8736"/><stop offset="1.000" stop-color="#f22a13"/></linearGradient><linearGradient id="g146"><stop offset="0.000" stop-color="#efe8b4"/><stop offset="0.120" stop-color="#edd394"/><stop offset="0.560" stop-color="#eb984a"/><stop offset="0.667" stop-color="#ec8938"/><stop offset="0.827" stop-color="#f06023"/><stop offset="1.000" stop-color="#f42c14"/></linearGradient><linearGradient id="g147"><stop offset="0.000" stop-color="#efe9b6"/><stop offset="0.120" stop-color="#edd495"/><stop offset="0.560" stop-color="#eb994c"/><stop offset="0.773" stop-color="#ee7429"/><stop offset="1.000" stop-color="#f43215"/></linearGradient><linearGradient id="g148"><stop offset="0.000" stop-color="#efeab7"/><stop offset="0.120" stop-color="#eed597"/><stop offset="0.333" stop-color="#eabb73"/><stop offset="0.667" stop-color="#ec8d3d"/><stop offset="0.827" stop-color="#ef6a26"/><stop offset="1.000" stop-color="#f33817"/></linearGradient><linearGradient id="g149"><stop offset="0.000" stop-color="#efebb8"/><stop offset="0.120" stop-color="#eed698"/><stop offset="0.560" stop-color="#eb9c51"/><stop offset="0.773" stop-color="#ed7d2c"/><stop offset="1.000" stop-color="#f33f19"/></linearGradient><linearGradient id="g150"><stop offset="0.000" stop-color="#efebb9"/><stop offset="0.240" stop-color="#ebcb86"/><stop offset="0.613" stop-color="#eb984b"/><stop offset="0.800" stop-color="#ed7a2b"/><stop offset="1.000" stop-color="#f2451a"/></linearGradient><linearGradient id="g151"><stop offset="0.000" stop-color="#efecba"/><stop offset="0.240" stop-color="#ebcc87"/><stop offset="0.613" stop-color="#eb994d"/><stop offset="0.800" stop-color="#ed7e2c"/><stop offset="1.000" stop-color="#f24b1c"/></linearGradient><linearGradient id="g152"><stop offset="0.000" stop-color="#eeedbb"/><stop offset="0.240" stop-color="#ebcc88"/><stop offset="0.613" stop-color="#eb9b4f"/><stop offset="0.800" stop-color="#ed802e"/><stop offset="1.000" stop-color="#f24f1d"/></linearGradient><linearGradient id="g153"><stop offset="0.000" stop-color="#eeedbc"/><stop offset="0.240" stop-color="#ebcc89"/><stop offset="0.613" stop-color="#eb9c50"/><stop offset="0.800" stop-color="#ed8230"/><stop offset="1.000" stop-color="#f1521e"/></linearGradient><linearGradient id="g154"><stop offset="0.000" stop-color="#eeeebd"/><stop offset="0.240" stop-color="#ebcd8a"/><stop offset="0.613" stop-color="#eb9e52"/><stop offset="0.800" stop-color="#ed8432"/><stop offset="1.000" stop-color="#f1561f"/></linearGradient><linearGradient id="g155"><stop offset="0.000" stop-color="#eeeebe"/><stop offset="0.240" stop-color="#ebcd8b"/><stop offset="0.613" stop-color="#eb9f54"/><stop offset="0.800" stop-color="#ed8534"/><stop offset="1.000" stop-color="#f15920"/></linearGradient><linearGradient id="g156"><stop offset="0.000" stop-color="#eeefbf"/><stop offset="0.240" stop-color="#ebce8c"/><stop offset="0.613" stop-color="#eba055"/><stop offset="0.800" stop-color="#ed8736"/><stop offset="1.000" stop-color="#f05b21"/></linearGradient><linearGradient id="g157"><stop offset="0.000" stop-color="#eef0c0"/><stop offset="0.240" stop-color="#ecce8c"/><stop offset="0.613" stop-color="#eba157"/><stop offset="0.800" stop-color="#ec8838"/><stop offset="0.893" stop-color="#ed7a2b"/><stop offset="1.000" stop-color="#f05e22"/></linearGradient><linearGradient id="g158"><stop offset="0.000" stop-color="#eef0c1"/><stop offset="0.240" stop-color="#eccf8d"/><stop offset="0.613" stop-color="#eaa258"/><stop offset="0.800" stop-color="#ec8a39"/><stop offset="0.893" stop-color="#ed7d2c"/><stop offset="1.000" stop-color="#f06022"/></linearGradient><linearGradient id="g159"><stop offset="0.000" stop-color="#eef1c2"/><stop offset="0.240" stop-color="#eccf8e"/><stop offset="0.613" stop-color="#eaa35a"/><stop offset="0.800" stop-color="#ec8b3b"/><stop offset="0.893" stop-color="#ed7f2d"/><stop offset="1.000" stop-color="#f06323"/></linearGradient><linearGradient id="g160"><stop offset="0.000" stop-color="#eef2c3"/><stop offset="0.240" stop-color="#ecd08f"/><stop offset="0.613" stop-color="#eaa45b"/><stop offset="0.800" stop-color="#ec8d3c"/><stop offset="0.893" stop-color="#ed802e"/><stop offset="1.000" stop-color="#f06524"/></linearGradient><linearGradient id="g161"><stop offset="0.000" stop-color="#eef2c4"/><stop offset="0.240" stop-color="#ecd090"/><stop offset="0.427" stop-color="#eabf77"/><stop offset="0.707" stop-color="#eb9a4d"/><stop offset="0.853" stop-color="#ed8736"/><stop offset="1.000" stop-color="#ef6725"/></linearGradient><linearGradient id="g162"><stop offset="0.000" stop-color="#eef2c4"/><stop offset="0.240" stop-color="#ecd191"/><stop offset="0.427" stop-color="#eac078"/><stop offset="0.707" stop-color="#eb9b4f"/><stop offset="0.853" stop-color="#ec8837"/><stop offset="1.000" stop-color="#ef6925"/></linearGradient><linearGradient id="g163"><stop offset="0.000" stop-color="#eef2c4"/><stop offset="0.240" stop-color="#edd292"/><stop offset="0.427" stop-color="#eac179"/><stop offset="0.707" stop-color="#eb9c50"/><stop offset="0.853" stop-color="#ec8939"/><stop offset="1.000" stop-color="#ef6b26"/></linearGradient><mask id="m164" maskUnits="userSpaceOnUse" x="0" y="0" width="685" height="384"><rect x="0" y="0" width="685" height="384" fill="#fff"/><rect x="62.3" y="323.6" width="26.0" height="8.5" fill="#000"/><rect x="89.2" y="297.2" width="26.0" height="8.5" fill="#000"/><rect x="120.3" y="268.1" width="26.0" height="8.5" fill="#000"/><rect x="146.6" y="248.6" width="26.0" height="8.5" fill="#000"/><rect x="157.6" y="226.7" width="26.0" height="8.5" fill="#000"/></mask><linearGradient id="cb165" x1="0" y1="0" x2="0" y2="1"><stop offset="0.000" stop-color="#3a1010"/><stop offset="0.025" stop-color="#4a1111"/><stop offset="0.050" stop-color="#5b1212"/><stop offset="0.075" stop-color="#6b1313"/><stop offset="0.100" stop-color="#7b1313"/><stop offset="0.125" stop-color="#8c1414"/><stop offset="0.150" stop-color="#a01614"/><stop offset="0.175" stop-color="#b41814"/><stop offset="0.200" stop-color="#c81a14"/><stop offset="0.225" stop-color="#db1c14"/><stop offset="0.250" stop-color="#e41f13"/><stop offset="0.275" stop-color="#ed2213"/><stop offset="0.300" stop-color="#f42512"/><stop offset="0.325" stop-color="#f32d16"/><stop offset="0.350" stop-color="#f23419"/><stop offset="0.375" stop-color="#f13c1c"/><stop offset="0.400" stop-color="#f04320"/><stop offset="0.425" stop-color="#f05023"/><stop offset="0.450" stop-color="#ef5d25"/><stop offset="0.475" stop-color="#ef6a28"/><stop offset="0.500" stop-color="#ee772b"/><stop offset="0.525" stop-color="#ee8131"/><stop offset="0.550" stop-color="#ed8a3a"/><stop offset="0.575" stop-color="#ed9242"/><stop offset="0.600" stop-color="#ec9b4b"/><stop offset="0.625" stop-color="#eca253"/><stop offset="0.650" stop-color="#eca659"/><stop offset="0.675" stop-color="#ecab60"/><stop offset="0.700" stop-color="#ecaf67"/><stop offset="0.725" stop-color="#ecb46e"/><stop offset="0.750" stop-color="#ecb875"/><stop offset="0.775" stop-color="#ecbd7b"/><stop offset="0.800" stop-color="#ecc283"/><stop offset="0.825" stop-color="#edc88c"/><stop offset="0.850" stop-color="#eece94"/><stop offset="0.875" stop-color="#eed39d"/><stop offset="0.900" stop-color="#efd9a6"/><stop offset="0.925" stop-color="#f0dfaf"/><stop offset="0.950" stop-color="#f1e5b9"/><stop offset="0.975" stop-color="#f1ecc5"/><stop offset="1.000" stop-color="#f2f2d0"/></linearGradient><clipPath id="clip166"><rect x="264.6" y="214.7" width="147.59999999999997" height="140.5"/></clipPath><linearGradient id="g167"><stop offset="0.000" stop-color="#ddd97a"/><stop offset="0.121" stop-color="#d8ba7d"/><stop offset="0.336" stop-color="#c46d88"/><stop offset="0.658" stop-color="#8d3690"/><stop offset="0.819" stop-color="#762790"/><stop offset="0.993" stop-color="#661e90"/></linearGradient><linearGradient id="g168"><stop offset="0.000" stop-color="#ddd97c"/><stop offset="0.121" stop-color="#d8bb7d"/><stop offset="0.336" stop-color="#c56e88"/><stop offset="0.497" stop-color="#ae4c90"/><stop offset="0.738" stop-color="#7e2b90"/><stop offset="0.993" stop-color="#671e90"/></linearGradient><linearGradient id="g169"><stop offset="0.000" stop-color="#ddda7d"/><stop offset="0.121" stop-color="#d8bc7d"/><stop offset="0.336" stop-color="#c56e87"/><stop offset="0.658" stop-color="#8f3790"/><stop offset="0.819" stop-color="#772790"/><stop offset="0.993" stop-color="#671e90"/></linearGradient><linearGradient id="g170"><stop offset="0.000" stop-color="#deda7f"/><stop offset="0.054" stop-color="#d9ce78"/><stop offset="0.161" stop-color="#d7af80"/><stop offset="0.362" stop-color="#c26989"/><stop offset="0.671" stop-color="#8e3690"/><stop offset="0.832" stop-color="#762790"/><stop offset="0.993" stop-color="#671f90"/></linearGradient><linearGradient id="g171"><stop offset="0.000" stop-color="#dedb80"/><stop offset="0.054" stop-color="#dace78"/><stop offset="0.161" stop-color="#d7b080"/><stop offset="0.362" stop-color="#c26a89"/><stop offset="0.671" stop-color="#8f3790"/><stop offset="0.832" stop-color="#772790"/><stop offset="0.993" stop-color="#671f90"/></linearGradient><linearGradient id="g172"><stop offset="0.000" stop-color="#dedb81"/><stop offset="0.054" stop-color="#dacf78"/><stop offset="0.161" stop-color="#d7b180"/><stop offset="0.362" stop-color="#c36a88"/><stop offset="0.671" stop-color="#903890"/><stop offset="0.832" stop-color="#772790"/><stop offset="0.993" stop-color="#681f90"/></linearGradient><linearGradient id="g173"><stop offset="0.000" stop-color="#dedb82"/><stop offset="0.054" stop-color="#dacf78"/><stop offset="0.161" stop-color="#d8b280"/><stop offset="0.362" stop-color="#c36b88"/><stop offset="0.671" stop-color="#913890"/><stop offset="0.832" stop-color="#782890"/><stop offset="0.993" stop-color="#681f90"/></linearGradient><linearGradient id="g174"><stop offset="0.000" stop-color="#dfdc83"/><stop offset="0.054" stop-color="#dad078"/><stop offset="0.161" stop-color="#d8b380"/><stop offset="0.362" stop-color="#c46c88"/><stop offset="0.671" stop-color="#923990"/><stop offset="0.832" stop-color="#782890"/><stop offset="0.993" stop-color="#681f90"/></linearGradient><linearGradient id="g175"><stop offset="0.000" stop-color="#dfdc84"/><stop offset="0.054" stop-color="#dad078"/><stop offset="0.161" stop-color="#d8b480"/><stop offset="0.362" stop-color="#c46c88"/><stop offset="0.671" stop-color="#933a90"/><stop offset="0.832" stop-color="#782890"/><stop offset="0.993" stop-color="#681f90"/></linearGradient><linearGradient id="g176"><stop offset="0.000" stop-color="#dfdc85"/><stop offset="0.040" stop-color="#dbd478"/><stop offset="0.148" stop-color="#d8b87e"/><stop offset="0.349" stop-color="#c67187"/><stop offset="0.671" stop-color="#943a90"/><stop offset="0.832" stop-color="#782890"/><stop offset="0.993" stop-color="#691f90"/></linearGradient><linearGradient id="g177"><stop offset="0.000" stop-color="#dfdc85"/><stop offset="0.040" stop-color="#dbd478"/><stop offset="0.148" stop-color="#d8b87e"/><stop offset="0.349" stop-color="#c67287"/><stop offset="0.671" stop-color="#943a90"/><stop offset="0.832" stop-color="#792890"/><stop offset="0.993" stop-color="#692090"/></linearGradient><linearGradient id="g178"><stop offset="0.000" stop-color="#dfdd86"/><stop offset="0.040" stop-color="#dbd478"/><stop offset="0.148" stop-color="#d8b87e"/><stop offset="0.349" stop-color="#c67287"/><stop offset="0.510" stop-color="#b1518f"/><stop offset="0.752" stop-color="#853090"/><stop offset="0.993" stop-color="#692090"/></linearGradient><linearGradient id="g179"><stop offset="0.000" stop-color="#e0dd86"/><stop offset="0.040" stop-color="#dbd578"/><stop offset="0.148" stop-color="#d8b97e"/><stop offset="0.349" stop-color="#c67386"/><stop offset="0.510" stop-color="#b2518f"/><stop offset="0.752" stop-color="#863090"/><stop offset="0.993" stop-color="#692090"/></linearGradient><linearGradient id="g180"><stop offset="0.000" stop-color="#e0dd86"/><stop offset="0.040" stop-color="#dbd578"/><stop offset="0.148" stop-color="#d8b97e"/><stop offset="0.349" stop-color="#c77486"/><stop offset="0.510" stop-color="#b2528f"/><stop offset="0.752" stop-color="#863190"/><stop offset="0.993" stop-color="#692090"/></linearGradient><linearGradient id="g181"><stop offset="0.000" stop-color="#e0dd86"/><stop offset="0.040" stop-color="#dbd578"/><stop offset="0.148" stop-color="#d8b97e"/><stop offset="0.349" stop-color="#c77586"/><stop offset="0.510" stop-color="#b2528e"/><stop offset="0.752" stop-color="#863190"/><stop offset="0.993" stop-color="#692090"/></linearGradient><linearGradient id="g182"><stop offset="0.000" stop-color="#dfdd86"/><stop offset="0.040" stop-color="#dbd478"/><stop offset="0.148" stop-color="#d8b97e"/><stop offset="0.349" stop-color="#c77586"/><stop offset="0.510" stop-color="#b2528e"/><stop offset="0.752" stop-color="#873190"/><stop offset="0.993" stop-color="#6a2090"/></linearGradient><linearGradient id="g183"><stop offset="0.000" stop-color="#dfdc85"/><stop offset="0.040" stop-color="#dbd478"/><stop offset="0.148" stop-color="#d8b97e"/><stop offset="0.349" stop-color="#c77686"/><stop offset="0.510" stop-color="#b3538e"/><stop offset="0.752" stop-color="#873190"/><stop offset="0.993" stop-color="#6a2090"/></linearGradient><linearGradient id="g184"><stop offset="0.000" stop-color="#dfdc84"/><stop offset="0.054" stop-color="#dad078"/><stop offset="0.282" stop-color="#ce8b81"/><stop offset="0.456" stop-color="#ba5e8c"/><stop offset="0.725" stop-color="#8d3590"/><stop offset="0.859" stop-color="#772790"/><stop offset="0.993" stop-color="#6a2090"/></linearGradient><linearGradient id="g185"><stop offset="0.000" stop-color="#dedb81"/><stop offset="0.054" stop-color="#dad078"/><stop offset="0.282" stop-color="#cf8c81"/><stop offset="0.456" stop-color="#ba5e8b"/><stop offset="0.725" stop-color="#8d3690"/><stop offset="0.859" stop-color="#772790"/><stop offset="0.993" stop-color="#6a2090"/></linearGradient><linearGradient id="g186"><stop offset="0.000" stop-color="#deda7e"/><stop offset="0.054" stop-color="#dacf78"/><stop offset="0.161" stop-color="#d8b57f"/><stop offset="0.362" stop-color="#c77486"/><stop offset="0.510" stop-color="#b3548e"/><stop offset="0.752" stop-color="#883290"/><stop offset="0.993" stop-color="#6a2090"/></linearGradient><linearGradient id="g187"><stop offset="0.000" stop-color="#ddd97b"/><stop offset="0.121" stop-color="#d8be7c"/><stop offset="0.336" stop-color="#c97c84"/><stop offset="0.497" stop-color="#b5578d"/><stop offset="0.738" stop-color="#8b3490"/><stop offset="0.993" stop-color="#6a2090"/></linearGradient><linearGradient id="g188"><stop offset="0.000" stop-color="#dcd878"/><stop offset="0.121" stop-color="#d8bd7c"/><stop offset="0.336" stop-color="#c97c84"/><stop offset="0.497" stop-color="#b5578d"/><stop offset="0.738" stop-color="#8b3490"/><stop offset="0.993" stop-color="#6a2090"/></linearGradient><linearGradient id="g189"><stop offset="0.000" stop-color="#dcd678"/><stop offset="0.121" stop-color="#d8bd7d"/><stop offset="0.336" stop-color="#ca7d84"/><stop offset="0.497" stop-color="#b6578d"/><stop offset="0.738" stop-color="#8c3590"/><stop offset="0.993" stop-color="#6a2090"/></linearGradient><linearGradient id="g190"><stop offset="0.000" stop-color="#dbd478"/><stop offset="0.121" stop-color="#d8bc7d"/><stop offset="0.336" stop-color="#ca7d84"/><stop offset="0.497" stop-color="#b6578d"/><stop offset="0.738" stop-color="#8c3590"/><stop offset="0.993" stop-color="#6a2090"/></linearGradient><linearGradient id="g191"><stop offset="0.000" stop-color="#dbd378"/><stop offset="0.121" stop-color="#d8bb7d"/><stop offset="0.336" stop-color="#ca7d84"/><stop offset="0.497" stop-color="#b6588d"/><stop offset="0.738" stop-color="#8c3590"/><stop offset="0.993" stop-color="#6a2090"/></linearGradient><linearGradient id="g192"><stop offset="0.000" stop-color="#dad178"/><stop offset="0.121" stop-color="#d8ba7d"/><stop offset="0.336" stop-color="#ca7e84"/><stop offset="0.497" stop-color="#b6588d"/><stop offset="0.738" stop-color="#8d3590"/><stop offset="0.859" stop-color="#782890"/><stop offset="0.993" stop-color="#6b2090"/></linearGradient><linearGradient id="g193"><stop offset="0.000" stop-color="#dad078"/><stop offset="0.121" stop-color="#d8ba7e"/><stop offset="0.336" stop-color="#ca7e84"/><stop offset="0.497" stop-color="#b6588d"/><stop offset="0.738" stop-color="#8d3690"/><stop offset="0.993" stop-color="#6b2190"/></linearGradient><linearGradient id="g194"><stop offset="0.000" stop-color="#dace78"/><stop offset="0.121" stop-color="#d8b97e"/><stop offset="0.336" stop-color="#ca7e84"/><stop offset="0.497" stop-color="#b7598d"/><stop offset="0.738" stop-color="#8e3690"/><stop offset="0.993" stop-color="#6b2190"/></linearGradient><linearGradient id="g195"><stop offset="0.000" stop-color="#d9cd78"/><stop offset="0.121" stop-color="#d8b87e"/><stop offset="0.336" stop-color="#ca7f84"/><stop offset="0.497" stop-color="#b7598d"/><stop offset="0.738" stop-color="#8e3690"/><stop offset="0.993" stop-color="#6b2190"/></linearGradient><linearGradient id="g196"><stop offset="0.000" stop-color="#d9cb78"/><stop offset="0.121" stop-color="#d8b87e"/><stop offset="0.336" stop-color="#ca7f84"/><stop offset="0.497" stop-color="#b7598d"/><stop offset="0.738" stop-color="#8e3790"/><stop offset="0.859" stop-color="#782890"/><stop offset="0.993" stop-color="#6b2190"/></linearGradient><linearGradient id="g197"><stop offset="0.000" stop-color="#d9ca78"/><stop offset="0.121" stop-color="#d8b87f"/><stop offset="0.336" stop-color="#cb8084"/><stop offset="0.497" stop-color="#b7598d"/><stop offset="0.738" stop-color="#8f3790"/><stop offset="0.859" stop-color="#792890"/><stop offset="0.993" stop-color="#6b2190"/></linearGradient><linearGradient id="g198"><stop offset="0.000" stop-color="#d8c978"/><stop offset="0.121" stop-color="#d8b87f"/><stop offset="0.336" stop-color="#cb8083"/><stop offset="0.497" stop-color="#b85a8d"/><stop offset="0.738" stop-color="#903790"/><stop offset="0.859" stop-color="#792890"/><stop offset="0.993" stop-color="#6c2190"/></linearGradient><linearGradient id="g199"><stop offset="0.000" stop-color="#d8c978"/><stop offset="0.121" stop-color="#d8b87f"/><stop offset="0.336" stop-color="#cb8183"/><stop offset="0.497" stop-color="#b85b8c"/><stop offset="0.738" stop-color="#903890"/><stop offset="0.859" stop-color="#792890"/><stop offset="0.993" stop-color="#6c2190"/></linearGradient><linearGradient id="g200"><stop offset="0.000" stop-color="#d8c878"/><stop offset="0.121" stop-color="#d8b87e"/><stop offset="0.336" stop-color="#cb8283"/><stop offset="0.497" stop-color="#b95b8c"/><stop offset="0.738" stop-color="#913990"/><stop offset="0.859" stop-color="#792890"/><stop offset="0.993" stop-color="#6d2290"/></linearGradient><linearGradient id="g201"><stop offset="0.000" stop-color="#d8c878"/><stop offset="0.121" stop-color="#d8b97e"/><stop offset="0.336" stop-color="#cc8383"/><stop offset="0.497" stop-color="#b95d8c"/><stop offset="0.617" stop-color="#a74790"/><stop offset="0.805" stop-color="#842f90"/><stop offset="0.993" stop-color="#6d2290"/></linearGradient><linearGradient id="g202"><stop offset="0.000" stop-color="#d8c978"/><stop offset="0.121" stop-color="#d8ba7e"/><stop offset="0.336" stop-color="#cc8582"/><stop offset="0.497" stop-color="#bb5e8b"/><stop offset="0.617" stop-color="#a84890"/><stop offset="0.805" stop-color="#853090"/><stop offset="0.993" stop-color="#6e2290"/></linearGradient><linearGradient id="g203"><stop offset="0.000" stop-color="#d9ca78"/><stop offset="0.121" stop-color="#d8bb7d"/><stop offset="0.336" stop-color="#cd8782"/><stop offset="0.497" stop-color="#bc608b"/><stop offset="0.617" stop-color="#aa4990"/><stop offset="0.805" stop-color="#873190"/><stop offset="0.993" stop-color="#6f2390"/></linearGradient><linearGradient id="g204"><stop offset="0.000" stop-color="#d9cc78"/><stop offset="0.121" stop-color="#d8bc7d"/><stop offset="0.336" stop-color="#ce8a81"/><stop offset="0.497" stop-color="#be638a"/><stop offset="0.617" stop-color="#ac4a90"/><stop offset="0.805" stop-color="#893390"/><stop offset="0.899" stop-color="#772790"/><stop offset="0.993" stop-color="#702390"/></linearGradient><linearGradient id="g205"><stop offset="0.000" stop-color="#dace78"/><stop offset="0.121" stop-color="#d8bd7c"/><stop offset="0.336" stop-color="#cf8d81"/><stop offset="0.658" stop-color="#a84890"/><stop offset="0.819" stop-color="#893390"/><stop offset="0.899" stop-color="#782890"/><stop offset="0.993" stop-color="#712490"/></linearGradient><linearGradient id="g206"><stop offset="0.000" stop-color="#dad078"/><stop offset="0.242" stop-color="#d5a680"/><stop offset="0.430" stop-color="#c97a85"/><stop offset="0.564" stop-color="#b75a8d"/><stop offset="0.779" stop-color="#963c90"/><stop offset="0.886" stop-color="#7a2990"/><stop offset="0.993" stop-color="#722590"/></linearGradient><linearGradient id="g207"><stop offset="0.000" stop-color="#dbd378"/><stop offset="0.242" stop-color="#d6aa80"/><stop offset="0.430" stop-color="#ca7e84"/><stop offset="0.711" stop-color="#a54690"/><stop offset="0.846" stop-color="#893390"/><stop offset="0.913" stop-color="#782890"/><stop offset="0.993" stop-color="#742690"/></linearGradient><linearGradient id="g208"><stop offset="0.000" stop-color="#dbd578"/><stop offset="0.242" stop-color="#d7ae80"/><stop offset="0.430" stop-color="#cc8383"/><stop offset="0.711" stop-color="#a84890"/><stop offset="0.846" stop-color="#8e3690"/><stop offset="0.913" stop-color="#7a2990"/><stop offset="0.993" stop-color="#762790"/></linearGradient><linearGradient id="g209"><stop offset="0.000" stop-color="#dcd778"/><stop offset="0.242" stop-color="#d8b280"/><stop offset="0.617" stop-color="#b85b8c"/><stop offset="0.805" stop-color="#9e4190"/><stop offset="0.899" stop-color="#7f2c90"/><stop offset="0.993" stop-color="#792890"/></linearGradient><linearGradient id="g210"><stop offset="0.000" stop-color="#ddd97b"/><stop offset="0.242" stop-color="#d8b67f"/><stop offset="0.617" stop-color="#bb5f8b"/><stop offset="0.805" stop-color="#a44590"/><stop offset="0.899" stop-color="#873290"/><stop offset="0.993" stop-color="#7b2a90"/></linearGradient><linearGradient id="g211"><stop offset="0.000" stop-color="#dedb81"/><stop offset="0.054" stop-color="#dbd478"/><stop offset="0.282" stop-color="#d7b280"/><stop offset="0.631" stop-color="#bc618b"/><stop offset="0.805" stop-color="#aa4990"/><stop offset="0.993" stop-color="#822e90"/></linearGradient><linearGradient id="g212"><stop offset="0.000" stop-color="#dfdd86"/><stop offset="0.054" stop-color="#dbd678"/><stop offset="0.282" stop-color="#d8b57f"/><stop offset="0.631" stop-color="#bf658a"/><stop offset="0.805" stop-color="#af4e8f"/><stop offset="0.993" stop-color="#8b3490"/></linearGradient><linearGradient id="g213"><stop offset="0.000" stop-color="#e1de8b"/><stop offset="0.054" stop-color="#dcd878"/><stop offset="0.282" stop-color="#d8b87e"/><stop offset="0.456" stop-color="#d19680"/><stop offset="0.591" stop-color="#c77586"/><stop offset="0.792" stop-color="#b5568d"/><stop offset="0.993" stop-color="#943a90"/></linearGradient><linearGradient id="g214"><stop offset="0.000" stop-color="#e2e090"/><stop offset="0.054" stop-color="#ddd97c"/><stop offset="0.282" stop-color="#d8bb7d"/><stop offset="0.456" stop-color="#d29b80"/><stop offset="0.591" stop-color="#c97a85"/><stop offset="0.685" stop-color="#c06689"/><stop offset="0.832" stop-color="#b7598d"/><stop offset="0.993" stop-color="#9d4190"/></linearGradient><linearGradient id="g215"><stop offset="0.000" stop-color="#e3e191"/><stop offset="0.054" stop-color="#deda7f"/><stop offset="0.161" stop-color="#d9cc78"/><stop offset="0.362" stop-color="#d7b180"/><stop offset="0.671" stop-color="#c46d88"/><stop offset="0.832" stop-color="#bb608b"/><stop offset="0.993" stop-color="#a64690"/></linearGradient><linearGradient id="g216"><stop offset="0.000" stop-color="#e3e293"/><stop offset="0.054" stop-color="#dfdb82"/><stop offset="0.121" stop-color="#dbd378"/><stop offset="0.336" stop-color="#d8b97e"/><stop offset="0.658" stop-color="#c77686"/><stop offset="0.819" stop-color="#c06789"/><stop offset="0.993" stop-color="#ad4c90"/></linearGradient><linearGradient id="g217"><stop offset="0.000" stop-color="#e3e394"/><stop offset="0.054" stop-color="#dfdc85"/><stop offset="0.121" stop-color="#dbd478"/><stop offset="0.336" stop-color="#d8bb7d"/><stop offset="0.658" stop-color="#c97c85"/><stop offset="0.819" stop-color="#c46c88"/><stop offset="0.993" stop-color="#b3538e"/></linearGradient><linearGradient id="g218"><stop offset="0.000" stop-color="#e4e394"/><stop offset="0.121" stop-color="#dbd578"/><stop offset="0.336" stop-color="#d8bd7c"/><stop offset="0.658" stop-color="#cb8183"/><stop offset="0.819" stop-color="#c67187"/><stop offset="0.993" stop-color="#b75a8d"/></linearGradient><linearGradient id="g219"><stop offset="0.000" stop-color="#e4e495"/><stop offset="0.121" stop-color="#dcd678"/><stop offset="0.336" stop-color="#d8bf7c"/><stop offset="0.658" stop-color="#cd8682"/><stop offset="0.993" stop-color="#bb5f8b"/></linearGradient><linearGradient id="g220"><stop offset="0.000" stop-color="#e4e496"/><stop offset="0.121" stop-color="#dcd878"/><stop offset="0.550" stop-color="#d4a080"/><stop offset="0.765" stop-color="#ca7e84"/><stop offset="0.993" stop-color="#bf648a"/></linearGradient><linearGradient id="g221"><stop offset="0.000" stop-color="#e4e596"/><stop offset="0.121" stop-color="#dcd879"/><stop offset="0.550" stop-color="#d4a480"/><stop offset="0.765" stop-color="#cc8383"/><stop offset="0.993" stop-color="#c26989"/></linearGradient><linearGradient id="g222"><stop offset="0.000" stop-color="#e5e597"/><stop offset="0.121" stop-color="#ddd97b"/><stop offset="0.550" stop-color="#d5a780"/><stop offset="0.993" stop-color="#c46d88"/></linearGradient><linearGradient id="g223"><stop offset="0.000" stop-color="#e5e597"/><stop offset="0.121" stop-color="#ddda7d"/><stop offset="0.336" stop-color="#d8c47a"/><stop offset="0.993" stop-color="#c67187"/></linearGradient><linearGradient id="g224"><stop offset="0.000" stop-color="#e5e698"/><stop offset="0.121" stop-color="#deda7f"/><stop offset="0.228" stop-color="#dad078"/><stop offset="0.993" stop-color="#c77586"/></linearGradient><linearGradient id="g225"><stop offset="0.000" stop-color="#e5e698"/><stop offset="0.121" stop-color="#dedb81"/><stop offset="0.228" stop-color="#dad178"/><stop offset="0.993" stop-color="#c87985"/></linearGradient><linearGradient id="g226"><stop offset="0.000" stop-color="#e5e799"/><stop offset="0.121" stop-color="#dfdc83"/><stop offset="0.228" stop-color="#dad278"/><stop offset="0.993" stop-color="#c97c84"/></linearGradient><linearGradient id="g227"><stop offset="0.000" stop-color="#e5e799"/><stop offset="0.121" stop-color="#dfdc85"/><stop offset="0.228" stop-color="#dbd378"/><stop offset="0.993" stop-color="#ca7f84"/></linearGradient><linearGradient id="g228"><stop offset="0.000" stop-color="#e6e79a"/><stop offset="0.121" stop-color="#e0dd87"/><stop offset="0.228" stop-color="#dbd478"/><stop offset="0.993" stop-color="#cb8283"/></linearGradient><linearGradient id="g229"><stop offset="0.000" stop-color="#e6e89a"/><stop offset="0.242" stop-color="#dbd478"/><stop offset="0.993" stop-color="#cc8582"/></linearGradient><linearGradient id="g230"><stop offset="0.000" stop-color="#e6e89b"/><stop offset="0.242" stop-color="#dbd578"/><stop offset="0.993" stop-color="#ce8982"/></linearGradient><linearGradient id="g231"><stop offset="0.000" stop-color="#e6e99c"/><stop offset="0.242" stop-color="#dbd678"/><stop offset="0.993" stop-color="#cf8c81"/></linearGradient><linearGradient id="g232"><stop offset="0.000" stop-color="#e7e99c"/><stop offset="0.242" stop-color="#dcd778"/><stop offset="0.993" stop-color="#d08f80"/></linearGradient><linearGradient id="g233"><stop offset="0.000" stop-color="#e7ea9d"/><stop offset="0.121" stop-color="#e2e191"/><stop offset="0.228" stop-color="#ddd97c"/><stop offset="0.993" stop-color="#d19380"/></linearGradient><linearGradient id="g234"><stop offset="0.000" stop-color="#e7ea9e"/><stop offset="0.121" stop-color="#e3e292"/><stop offset="0.228" stop-color="#deda7f"/><stop offset="0.416" stop-color="#d8ca78"/><stop offset="0.993" stop-color="#d19680"/></linearGradient><linearGradient id="g235"><stop offset="0.000" stop-color="#e7eb9f"/><stop offset="0.121" stop-color="#e3e293"/><stop offset="0.228" stop-color="#dedb82"/><stop offset="0.322" stop-color="#dbd378"/><stop offset="0.993" stop-color="#d29a80"/></linearGradient><linearGradient id="g236"><stop offset="0.000" stop-color="#e8ec9f"/><stop offset="0.242" stop-color="#dedb82"/><stop offset="0.336" stop-color="#dbd378"/><stop offset="0.993" stop-color="#d39e80"/></linearGradient><linearGradient id="g237"><stop offset="0.000" stop-color="#e8eca0"/><stop offset="0.242" stop-color="#dfdc85"/><stop offset="0.336" stop-color="#dbd578"/><stop offset="0.993" stop-color="#d4a180"/></linearGradient><mask id="m238" maskUnits="userSpaceOnUse" x="0" y="0" width="685" height="384"><rect x="0" y="0" width="685" height="384" fill="#fff"/><rect x="370.5" y="235.4" width="24.5" height="8.5" fill="#000"/><rect x="335.4" y="266.2" width="24.5" height="8.5" fill="#000"/><rect x="311.7" y="296.2" width="24.5" height="8.5" fill="#000"/><rect x="293.6" y="316.8" width="24.5" height="8.5" fill="#000"/><rect x="268.2" y="339.8" width="24.5" height="8.5" fill="#000"/></mask><linearGradient id="cb239" x1="0" y1="0" x2="0" y2="1"><stop offset="0.000" stop-color="#6a20a0"/><stop offset="0.025" stop-color="#6e229f"/><stop offset="0.050" stop-color="#72249e"/><stop offset="0.075" stop-color="#76269d"/><stop offset="0.100" stop-color="#7a289c"/><stop offset="0.125" stop-color="#7d2a9b"/><stop offset="0.150" stop-color="#812c9a"/><stop offset="0.175" stop-color="#852e99"/><stop offset="0.200" stop-color="#893098"/><stop offset="0.225" stop-color="#8f3597"/><stop offset="0.250" stop-color="#963a96"/><stop offset="0.275" stop-color="#9c4095"/><stop offset="0.300" stop-color="#a34694"/><stop offset="0.325" stop-color="#aa4c93"/><stop offset="0.350" stop-color="#b15292"/><stop offset="0.375" stop-color="#b75891"/><stop offset="0.400" stop-color="#be5e90"/><stop offset="0.425" stop-color="#c3668f"/><stop offset="0.450" stop-color="#c6708d"/><stop offset="0.475" stop-color="#ca798b"/><stop offset="0.500" stop-color="#ce8289"/><stop offset="0.525" stop-color="#d08987"/><stop offset="0.550" stop-color="#d08b85"/><stop offset="0.575" stop-color="#d08d83"/><stop offset="0.600" stop-color="#d09080"/><stop offset="0.625" stop-color="#d1967f"/><stop offset="0.650" stop-color="#d39d7d"/><stop offset="0.675" stop-color="#d5a57b"/><stop offset="0.700" stop-color="#d7ac79"/><stop offset="0.725" stop-color="#d9b478"/><stop offset="0.750" stop-color="#dabc78"/><stop offset="0.775" stop-color="#dbc478"/><stop offset="0.800" stop-color="#dccc78"/><stop offset="0.825" stop-color="#ded07d"/><stop offset="0.850" stop-color="#e0d482"/><stop offset="0.875" stop-color="#e1d987"/><stop offset="0.900" stop-color="#e3dd8c"/><stop offset="0.925" stop-color="#e5e191"/><stop offset="0.950" stop-color="#e7e596"/><stop offset="0.975" stop-color="#e8e99b"/><stop offset="1.000" stop-color="#eaeda0"/></linearGradient><clipPath id="clip240"><rect x="492.4" y="214.7" width="147.80000000000007" height="140.5"/></clipPath><linearGradient id="g241"><stop offset="0.000" stop-color="#f7f6b6"/><stop offset="0.121" stop-color="#f0cd93"/><stop offset="0.228" stop-color="#f0a075"/><stop offset="0.309" stop-color="#ef7e61"/><stop offset="0.389" stop-color="#e45b6c"/><stop offset="0.430" stop-color="#db4e74"/><stop offset="0.497" stop-color="#c24788"/><stop offset="0.617" stop-color="#892ea2"/><stop offset="0.711" stop-color="#6423a4"/><stop offset="0.779" stop-color="#4f2195"/><stop offset="0.819" stop-color="#411e81"/><stop offset="0.899" stop-color="#231547"/><stop offset="0.993" stop-color="#0f0d1a"/></linearGradient><linearGradient id="g242"><stop offset="0.000" stop-color="#f7f6b6"/><stop offset="0.121" stop-color="#f0cd93"/><stop offset="0.228" stop-color="#f0a075"/><stop offset="0.309" stop-color="#ef7e61"/><stop offset="0.389" stop-color="#e45b6c"/><stop offset="0.430" stop-color="#db4e74"/><stop offset="0.497" stop-color="#c24788"/><stop offset="0.617" stop-color="#892ea2"/><stop offset="0.711" stop-color="#6423a4"/><stop offset="0.779" stop-color="#4f2195"/><stop offset="0.819" stop-color="#411e81"/><stop offset="0.899" stop-color="#231547"/><stop offset="0.993" stop-color="#0f0d1a"/></linearGradient><mask id="m243" maskUnits="userSpaceOnUse" x="0" y="0" width="685" height="384"><rect x="0" y="0" width="685" height="384" fill="#fff"/><rect x="495.2" y="223.3" width="24.5" height="8.5" fill="#000"/><rect x="516.7" y="244.3" width="24.5" height="8.5" fill="#000"/><rect x="543.0" y="265.2" width="24.5" height="8.5" fill="#000"/><rect x="572.2" y="296.6" width="24.5" height="8.5" fill="#000"/><rect x="599.5" y="314.9" width="24.5" height="8.5" fill="#000"/><rect x="616.1" y="338.9" width="24.5" height="8.5" fill="#000"/></mask><linearGradient id="cb244" x1="0" y1="0" x2="0" y2="1"><stop offset="0.000" stop-color="#0c0c14"/><stop offset="0.025" stop-color="#110e1e"/><stop offset="0.050" stop-color="#151029"/><stop offset="0.075" stop-color="#1a1233"/><stop offset="0.100" stop-color="#1f133d"/><stop offset="0.125" stop-color="#27164d"/><stop offset="0.150" stop-color="#30195f"/><stop offset="0.175" stop-color="#391b72"/><stop offset="0.200" stop-color="#421e84"/><stop offset="0.225" stop-color="#4b2092"/><stop offset="0.250" stop-color="#532198"/><stop offset="0.275" stop-color="#5b229d"/><stop offset="0.300" stop-color="#6323a3"/><stop offset="0.325" stop-color="#6b24a8"/><stop offset="0.350" stop-color="#7427a6"/><stop offset="0.375" stop-color="#7e2ba4"/><stop offset="0.400" stop-color="#882ea2"/><stop offset="0.425" stop-color="#9231a0"/><stop offset="0.450" stop-color="#9e379b"/><stop offset="0.475" stop-color="#ab3e96"/><stop offset="0.500" stop-color="#b84490"/><stop offset="0.525" stop-color="#c24788"/><stop offset="0.550" stop-color="#cb4a81"/><stop offset="0.575" stop-color="#d44d79"/><stop offset="0.600" stop-color="#de4f72"/><stop offset="0.625" stop-color="#e3596d"/><stop offset="0.650" stop-color="#e76469"/><stop offset="0.675" stop-color="#ea6f66"/><stop offset="0.700" stop-color="#ee7a62"/><stop offset="0.725" stop-color="#f08564"/><stop offset="0.750" stop-color="#f0916b"/><stop offset="0.775" stop-color="#f09c73"/><stop offset="0.800" stop-color="#f0a77a"/><stop offset="0.825" stop-color="#f0b282"/><stop offset="0.850" stop-color="#f0bd89"/><stop offset="0.875" stop-color="#f0c990"/><stop offset="0.900" stop-color="#f0d498"/><stop offset="0.925" stop-color="#f0df9f"/><stop offset="0.950" stop-color="#f3e8a8"/><stop offset="0.975" stop-color="#f5f0b0"/><stop offset="1.000" stop-color="#f8f8b8"/></linearGradient></defs>
<rect width="685" height="384" fill="#fff"/>
<g clip-path="url(#clip1)">
<g shape-rendering="crispEdges">
<rect x="34" y="21" width="149" height="2" fill="url(#g2)"/>
<rect x="34" y="23" width="149" height="2" fill="url(#g3)"/>
<rect x="34" y="25" width="149" height="2" fill="url(#g4)"/>
<rect x="34" y="27" width="149" height="2" fill="url(#g5)"/>
<rect x="34" y="29" width="149" height="2" fill="url(#g6)"/>
<rect x="34" y="31" width="149" height="2" fill="url(#g7)"/>
<rect x="34" y="33" width="149" height="2" fill="url(#g8)"/>
<rect x="34" y="35" width="149" height="2" fill="url(#g9)"/>
<rect x="34" y="37" width="149" height="2" fill="url(#g10)"/>
<rect x="34" y="39" width="149" height="2" fill="url(#g11)"/>
<rect x="34" y="41" width="149" height="2" fill="url(#g12)"/>
<rect x="34" y="43" width="149" height="2" fill="url(#g13)"/>
<rect x="34" y="45" width="149" height="2" fill="url(#g14)"/>
<rect x="34" y="47" width="149" height="2" fill="url(#g15)"/>
<rect x="34" y="49" width="149" height="2" fill="url(#g16)"/>
<rect x="34" y="51" width="149" height="2" fill="url(#g17)"/>
<rect x="34" y="53" width="149" height="2" fill="url(#g18)"/>
<rect x="34" y="55" width="149" height="2" fill="url(#g19)"/>
<rect x="34" y="57" width="149" height="2" fill="url(#g20)"/>
<rect x="34" y="59" width="149" height="2" fill="url(#g21)"/>
<rect x="34" y="61" width="149" height="2" fill="url(#g22)"/>
<rect x="34" y="63" width="149" height="2" fill="url(#g23)"/>
<rect x="34" y="65" width="149" height="2" fill="url(#g24)"/>
<rect x="34" y="67" width="149" height="2" fill="url(#g25)"/>
<rect x="34" y="69" width="149" height="2" fill="url(#g26)"/>
<rect x="34" y="71" width="149" height="2" fill="url(#g27)"/>
<rect x="34" y="73" width="149" height="2" fill="url(#g28)"/>
<rect x="34" y="75" width="149" height="2" fill="url(#g29)"/>
<rect x="34" y="77" width="149" height="2" fill="url(#g30)"/>
<rect x="34" y="79" width="149" height="2" fill="url(#g31)"/>
<rect x="34" y="81" width="149" height="2" fill="url(#g32)"/>
<rect x="34" y="83" width="149" height="2" fill="url(#g33)"/>
<rect x="34" y="85" width="149" height="2" fill="url(#g34)"/>
<rect x="34" y="87" width="149" height="2" fill="url(#g35)"/>
<rect x="34" y="89" width="149" height="2" fill="url(#g36)"/>
<rect x="34" y="91" width="149" height="2" fill="url(#g37)"/>
<rect x="34" y="93" width="149" height="2" fill="url(#g38)"/>
<rect x="34" y="95" width="149" height="2" fill="#b6c33c"/>
<rect x="34" y="97" width="149" height="2" fill="#bac43c"/>
<rect x="34" y="99" width="149" height="2" fill="#c3c73b"/>
<rect x="34" y="101" width="149" height="2" fill="#cec83a"/>
<rect x="34" y="103" width="149" height="2" fill="#d8c83a"/>
<rect x="34" y="105" width="149" height="2" fill="#dbc539"/>
<rect x="34" y="107" width="149" height="2" fill="#dec239"/>
<rect x="34" y="109" width="149" height="2" fill="#e1be38"/>
<rect x="34" y="111" width="149" height="2" fill="#e4b336"/>
<rect x="34" y="113" width="149" height="2" fill="#e7a935"/>
<rect x="34" y="115" width="149" height="2" fill="#e99b33"/>
<rect x="34" y="117" width="149" height="2" fill="#ec8a31"/>
<rect x="34" y="119" width="149" height="2" fill="#ee7a30"/>
<rect x="34" y="121" width="149" height="2" fill="#ef6d30"/>
<rect x="34" y="123" width="149" height="2" fill="#f06030"/>
<rect x="34" y="125" width="149" height="2" fill="#f05530"/>
<rect x="34" y="127" width="149" height="2" fill="#f04a30"/>
<rect x="34" y="129" width="149" height="2" fill="#f04030"/>
<rect x="34" y="131" width="149" height="2" fill="#f03d30"/>
<rect x="34" y="133" width="149" height="2" fill="#f03a30"/>
<rect x="34" y="135" width="149" height="2" fill="#f03830"/>
<rect x="34" y="137" width="149" height="2" fill="#f03630"/>
<rect x="34" y="139" width="149" height="2" fill="#f03430"/>
<rect x="34" y="141" width="149" height="2" fill="#f03330"/>
<rect x="34" y="143" width="149" height="2" fill="#f03330"/>
<rect x="34" y="145" width="149" height="2" fill="#f03230"/>
<rect x="34" y="147" width="149" height="2" fill="#f03130"/>
<rect x="34" y="149" width="149" height="2" fill="#f03130"/>
<rect x="34" y="151" width="149" height="2" fill="#f03030"/>
<rect x="34" y="153" width="149" height="2" fill="#f03030"/>
<rect x="34" y="155" width="149" height="2" fill="#f02f30"/>
<rect x="34" y="157" width="149" height="2" fill="#f02f30"/>
<rect x="34" y="159" width="149" height="2" fill="#f02f30"/>
<rect x="34" y="161" width="149" height="2" fill="#f02e30"/>
<rect x="34" y="163" width="149" height="2" fill="#f02e30"/>
</g>
<g mask="url(#m39)">
<path d="M34.5,24.0 C42.1,24.5 63.5,26.0 80.0,26.9 C96.5,27.8 118.8,28.8 133.6,29.5 C148.4,30.2 160.8,30.5 169.0,31.0 C177.2,31.5 180.2,32.3 182.5,32.6" fill="none" stroke="#f4f4f4" stroke-width="0.9"/>
<path d="M34.5,44.4 C39.6,45.2 57.5,47.0 65.2,49.3 C72.9,51.6 75.8,55.5 80.8,58.0 C85.8,60.5 90.3,62.0 95.3,64.0 C100.3,66.0 103.7,67.9 110.7,70.0 C117.7,72.1 132.1,75.2 137.3,76.6 C142.5,77.9 134.5,77.6 142.0,78.1 C149.5,78.6 175.8,79.3 182.5,79.5" fill="none" stroke="#f4f4f4" stroke-width="0.9"/>
<path d="M34.5,103.7 L182.5,103.7" fill="none" stroke="#f4f4f4" stroke-width="0.9"/>
<path d="M34.5,115.0 L182.5,115.0" fill="none" stroke="#f4f4f4" stroke-width="0.9"/>
<path d="M34.5,130.0 L182.5,130.0" fill="none" stroke="#f4f4f4" stroke-width="0.9"/>
</g>
<path d="M88.4,22.3 L103.0,24.1 L107.6,26.4 L116.8,28.4 L130.6,29.5 L142.8,32.6 L158.2,33.3 L165.1,35.2 L175.0,35.6 L176.6,41.0 L178.9,51.7 L181.2,63.2" fill="none" stroke="#111" stroke-width="1.55" stroke-linejoin="round" stroke-linecap="butt" stroke-dasharray="1.5 1.9"/>
<path d="M35.0,91.8 L59.3,90.6 L71.0,84.4 L81.8,82.4 L108.0,85.4 L150.9,85.4 L172.4,82.8 L176.5,86.0 L181.2,93.0" fill="none" stroke="#111" stroke-width="1.55" stroke-linejoin="round" stroke-linecap="butt" stroke-dasharray="1.5 1.9"/>
<path d="M61.3,162.0 L80.8,144.6 L98.3,142.7 L127.5,141.1 L156.8,133.9 L180.2,126.1" fill="none" stroke="#111" stroke-width="1.55" stroke-linejoin="round" stroke-linecap="butt" stroke-dasharray="1.5 1.9"/>
</g>
<text x="169.2" y="33.6" font-size="8.6" text-anchor="middle" fill="#fff" stroke="#fff" stroke-width="0.4">26</text>
<text x="142.0" y="80.7" font-size="8.6" text-anchor="middle" fill="#fff" stroke="#fff" stroke-width="0.4">24</text>
<text x="106.8" y="106.3" font-size="8.6" text-anchor="middle" fill="#fff" stroke="#fff" stroke-width="0.4">18</text>
<text x="75.9" y="117.6" font-size="8.6" text-anchor="middle" fill="#fff" stroke="#fff" stroke-width="0.4">12</text>
<text x="50.5" y="132.6" font-size="8.6" text-anchor="middle" fill="#fff" stroke="#fff" stroke-width="0.4">6.0</text>
<text x="180.5" y="158.1" font-size="9.9" text-anchor="end" fill="#1a1a1a" stroke="#1a1a1a" stroke-width="0.12" textLength="83" lengthAdjust="spacingAndGlyphs">Flow rate = 1.5 m/s</text>
<path d="M34.5,163.2 L34.5,21.5 L182.5,21.5" fill="none" stroke="#9a9a9a" stroke-width="1"/>
<path d="M34.0,163.2 L182.5,163.2" fill="none" stroke="#3a3a3a" stroke-width="1"/>
<path d="M182.5,163.2 L182.5,21.5" fill="none" stroke="#3a3a3a" stroke-width="1"/>
<text x="30.1" y="24.4" font-size="9.6" text-anchor="end" fill="#1a1a1a" stroke="#1a1a1a" stroke-width="0.12">-4.0</text>
<text x="30.1" y="52.7" font-size="9.6" text-anchor="end" fill="#1a1a1a" stroke="#1a1a1a" stroke-width="0.12">-5.0</text>
<text x="30.1" y="81.1" font-size="9.6" text-anchor="end" fill="#1a1a1a" stroke="#1a1a1a" stroke-width="0.12">-5.9</text>
<text x="30.1" y="109.4" font-size="9.6" text-anchor="end" fill="#1a1a1a" stroke="#1a1a1a" stroke-width="0.12">-6.9</text>
<text x="30.1" y="137.8" font-size="9.6" text-anchor="end" fill="#1a1a1a" stroke="#1a1a1a" stroke-width="0.12">-7.8</text>
<text x="30.1" y="166.1" font-size="9.6" text-anchor="end" fill="#1a1a1a" stroke="#1a1a1a" stroke-width="0.12">-8.8</text>
<text x="34.5" y="176.0" font-size="9.8" text-anchor="middle" fill="#1a1a1a" stroke="#1a1a1a" stroke-width="0.12">15</text>
<text x="64.1" y="176.0" font-size="9.8" text-anchor="middle" fill="#1a1a1a" stroke="#1a1a1a" stroke-width="0.12">18</text>
<text x="93.7" y="176.0" font-size="9.8" text-anchor="middle" fill="#1a1a1a" stroke="#1a1a1a" stroke-width="0.12">21</text>
<text x="123.3" y="176.0" font-size="9.8" text-anchor="middle" fill="#1a1a1a" stroke="#1a1a1a" stroke-width="0.12">24</text>
<text x="152.9" y="176.0" font-size="9.8" text-anchor="middle" fill="#1a1a1a" stroke="#1a1a1a" stroke-width="0.12">27</text>
<text x="182.5" y="176.0" font-size="9.8" text-anchor="middle" fill="#1a1a1a" stroke="#1a1a1a" stroke-width="0.12">30</text>
<path d="M32.0,21.5 L34.5,21.5 M33.0,35.7 L34.5,35.7 M32.0,49.8 L34.5,49.8 M33.0,64.0 L34.5,64.0 M32.0,78.2 L34.5,78.2 M33.0,92.3 L34.5,92.3 M32.0,106.5 L34.5,106.5 M33.0,120.7 L34.5,120.7 M32.0,134.9 L34.5,134.9 M33.0,149.0 L34.5,149.0 M32.0,163.2 L34.5,163.2 M34.5,163.2 L34.5,165.7 M49.3,163.2 L49.3,165.0 M64.1,163.2 L64.1,165.7 M78.9,163.2 L78.9,165.0 M93.7,163.2 L93.7,165.7 M108.5,163.2 L108.5,165.0 M123.3,163.2 L123.3,165.7 M138.1,163.2 L138.1,165.0 M152.9,163.2 L152.9,165.7 M167.7,163.2 L167.7,165.0 M182.5,163.2 L182.5,165.7 " stroke="#333" stroke-width="0.9"/>
<text x="108.8" y="188.0" font-size="10.8" text-anchor="middle" fill="#1a1a1a" stroke="#1a1a1a" stroke-width="0.12" textLength="104.5" lengthAdjust="spacingAndGlyphs">Linear power (kW/m)</text>
<text transform="translate(10.6,100.2) rotate(-90)" x="0" y="0" font-size="11" text-anchor="middle" fill="#1a1a1a" textLength="153" lengthAdjust="spacingAndGlyphs">Oxygen concentration (lg.wt.%)</text>
<rect x="185.3" y="21.5" width="13.5" height="141.7" fill="url(#cb40)" stroke="#8a8a8a" stroke-width="0.8"/>
<text x="205.5" y="27.6" font-size="8.6" text-anchor="start" fill="#222">30.0</text>
<text x="205.5" y="38.9" font-size="8.6" text-anchor="start" fill="#222">27.5</text>
<text x="205.5" y="50.3" font-size="8.6" text-anchor="start" fill="#222">25.0</text>
<text x="205.5" y="61.6" font-size="8.6" text-anchor="start" fill="#222">22.5</text>
<text x="205.5" y="72.9" font-size="8.6" text-anchor="start" fill="#222">20.0</text>
<text x="205.5" y="84.3" font-size="8.6" text-anchor="start" fill="#222">17.5</text>
<text x="205.5" y="95.6" font-size="8.6" text-anchor="start" fill="#222">15.0</text>
<text x="205.5" y="106.9" font-size="8.6" text-anchor="start" fill="#222">12.5</text>
<text x="205.5" y="118.3" font-size="8.6" text-anchor="start" fill="#222">10.0</text>
<text x="205.5" y="129.6" font-size="8.6" text-anchor="start" fill="#222">7.5</text>
<text x="205.5" y="140.9" font-size="8.6" text-anchor="start" fill="#222">5.0</text>
<text x="205.5" y="152.3" font-size="8.6" text-anchor="start" fill="#222">2.5</text>
<text x="205.5" y="163.6" font-size="8.6" text-anchor="start" fill="#222">0.0</text>
<path d="M198.8,24.5 L201.3,24.5 M198.8,35.8 L201.3,35.8 M198.8,47.2 L201.3,47.2 M198.8,58.5 L201.3,58.5 M198.8,69.8 L201.3,69.8 M198.8,81.2 L201.3,81.2 M198.8,92.5 L201.3,92.5 M198.8,103.8 L201.3,103.8 M198.8,115.2 L201.3,115.2 M198.8,126.5 L201.3,126.5 M198.8,137.8 L201.3,137.8 M198.8,149.2 L201.3,149.2 M198.8,160.5 L201.3,160.5 " stroke="#555" stroke-width="0.9"/>
<g clip-path="url(#clip41)">
<g shape-rendering="crispEdges">
<rect x="263" y="21" width="149" height="2" fill="url(#g42)"/>
<rect x="263" y="23" width="149" height="2" fill="url(#g43)"/>
<rect x="263" y="25" width="149" height="2" fill="#a6bb3c"/>
<rect x="263" y="27" width="149" height="2" fill="#a6bb3c"/>
<rect x="263" y="29" width="149" height="2" fill="#a8bc3c"/>
<rect x="263" y="31" width="149" height="2" fill="url(#g44)"/>
<rect x="263" y="33" width="149" height="2" fill="url(#g45)"/>
<rect x="263" y="35" width="149" height="2" fill="url(#g46)"/>
<rect x="263" y="37" width="149" height="2" fill="url(#g47)"/>
<rect x="263" y="39" width="149" height="2" fill="url(#g48)"/>
<rect x="263" y="41" width="149" height="2" fill="url(#g49)"/>
<rect x="263" y="43" width="149" height="2" fill="url(#g50)"/>
<rect x="263" y="45" width="149" height="2" fill="url(#g51)"/>
<rect x="263" y="47" width="149" height="2" fill="url(#g52)"/>
<rect x="263" y="49" width="149" height="2" fill="url(#g53)"/>
<rect x="263" y="51" width="149" height="2" fill="url(#g54)"/>
<rect x="263" y="53" width="149" height="2" fill="url(#g55)"/>
<rect x="263" y="55" width="149" height="2" fill="url(#g56)"/>
<rect x="263" y="57" width="149" height="2" fill="url(#g57)"/>
<rect x="263" y="59" width="149" height="2" fill="url(#g58)"/>
<rect x="263" y="61" width="149" height="2" fill="url(#g59)"/>
<rect x="263" y="63" width="149" height="2" fill="url(#g60)"/>
<rect x="263" y="65" width="149" height="2" fill="url(#g61)"/>
<rect x="263" y="67" width="149" height="2" fill="url(#g62)"/>
<rect x="263" y="69" width="149" height="2" fill="url(#g63)"/>
<rect x="263" y="71" width="149" height="2" fill="url(#g64)"/>
<rect x="263" y="73" width="149" height="2" fill="url(#g65)"/>
<rect x="263" y="75" width="149" height="2" fill="url(#g66)"/>
<rect x="263" y="77" width="149" height="2" fill="url(#g67)"/>
<rect x="263" y="79" width="149" height="2" fill="url(#g68)"/>
<rect x="263" y="81" width="149" height="2" fill="url(#g69)"/>
<rect x="263" y="83" width="149" height="2" fill="url(#g70)"/>
<rect x="263" y="85" width="149" height="2" fill="url(#g71)"/>
<rect x="263" y="87" width="149" height="2" fill="url(#g72)"/>
<rect x="263" y="89" width="149" height="2" fill="url(#g73)"/>
<rect x="263" y="91" width="149" height="2" fill="url(#g74)"/>
<rect x="263" y="93" width="149" height="2" fill="url(#g75)"/>
<rect x="263" y="95" width="149" height="2" fill="url(#g76)"/>
<rect x="263" y="97" width="149" height="2" fill="url(#g77)"/>
<rect x="263" y="99" width="149" height="2" fill="url(#g78)"/>
<rect x="263" y="101" width="149" height="2" fill="#b3c13c"/>
<rect x="263" y="103" width="149" height="2" fill="#b3c23c"/>
<rect x="263" y="105" width="149" height="2" fill="#b4c23c"/>
<rect x="263" y="107" width="149" height="2" fill="#b4c23c"/>
<rect x="263" y="109" width="149" height="2" fill="#b4c23c"/>
<rect x="263" y="111" width="149" height="2" fill="#b5c23c"/>
<rect x="263" y="113" width="149" height="2" fill="#b6c33c"/>
<rect x="263" y="115" width="149" height="2" fill="#b6c33c"/>
<rect x="263" y="117" width="149" height="2" fill="#b7c33c"/>
<rect x="263" y="119" width="149" height="2" fill="#b8c43c"/>
<rect x="263" y="121" width="149" height="2" fill="#b9c43c"/>
<rect x="263" y="123" width="149" height="2" fill="#bcc53c"/>
<rect x="263" y="125" width="149" height="2" fill="#bec63b"/>
<rect x="263" y="127" width="149" height="2" fill="#c2c73b"/>
<rect x="263" y="129" width="149" height="2" fill="#c7c83a"/>
<rect x="263" y="131" width="149" height="2" fill="#ccc83a"/>
<rect x="263" y="133" width="149" height="2" fill="#d4c83a"/>
<rect x="263" y="135" width="149" height="2" fill="#d9c73a"/>
<rect x="263" y="137" width="149" height="2" fill="#dbc539"/>
<rect x="263" y="139" width="149" height="2" fill="#ddc339"/>
<rect x="263" y="141" width="149" height="2" fill="#e0c038"/>
<rect x="263" y="143" width="149" height="2" fill="#e2b937"/>
<rect x="263" y="145" width="149" height="2" fill="#e5b036"/>
<rect x="263" y="147" width="149" height="2" fill="#e7a835"/>
<rect x="263" y="149" width="149" height="2" fill="#e99d33"/>
<rect x="263" y="151" width="149" height="2" fill="#eb9132"/>
<rect x="263" y="153" width="149" height="2" fill="url(#g79)"/>
<rect x="263" y="155" width="149" height="2" fill="url(#g80)"/>
<rect x="263" y="157" width="149" height="2" fill="url(#g81)"/>
<rect x="263" y="159" width="149" height="2" fill="url(#g82)"/>
<rect x="263" y="161" width="149" height="2" fill="url(#g83)"/>
<rect x="263" y="163" width="149" height="2" fill="url(#g84)"/>
</g>
<g mask="url(#m85)">
<path d="M263.0,28.8 C272.5,29.4 300.0,31.3 320.0,32.3 C340.0,33.3 370.2,33.8 383.0,35.0 C395.8,36.2 392.2,38.5 397.0,39.7 C401.8,40.9 409.1,41.6 411.5,42.0" fill="none" stroke="#f4f4f4" stroke-width="0.9"/>
<path d="M263.0,35.2 C265.8,35.3 270.0,34.6 279.5,36.0 C289.0,37.4 311.0,41.6 320.0,43.3 C329.0,45.0 328.2,43.0 333.7,46.0 C339.2,49.0 347.6,56.8 352.8,61.1 C358.1,65.4 362.0,69.0 365.2,72.0 C368.4,75.0 370.2,76.6 372.0,78.9 C373.8,81.2 374.4,83.4 376.0,85.7 C377.6,88.0 376.9,89.5 381.6,92.5 C386.3,95.5 399.0,101.8 404.0,104.0 C409.0,106.2 410.2,105.7 411.5,106.0" fill="none" stroke="#f4f4f4" stroke-width="0.9"/>
<path d="M263.0,120.6 L411.5,121.3" fill="none" stroke="#f4f4f4" stroke-width="0.9"/>
<path d="M263.0,134.9 L411.5,134.9" fill="none" stroke="#f4f4f4" stroke-width="0.9"/>
<path d="M263.0,149.0 L411.5,149.0" fill="none" stroke="#f4f4f4" stroke-width="0.9"/>
</g>
<path d="M317.1,22.3 L331.7,24.1 L336.3,26.4 L345.6,28.4 L359.4,29.5 L371.7,32.6 L387.1,33.3 L394.0,35.2 L404.0,35.6 L405.6,41.0 L407.9,51.7 L410.2,63.2" fill="none" stroke="#111" stroke-width="1.55" stroke-linejoin="round" stroke-linecap="butt" stroke-dasharray="1.5 1.9"/>
<path d="M263.5,91.8 L287.9,90.6 L299.6,84.4 L310.5,82.4 L336.7,85.4 L379.8,85.4 L401.4,82.8 L405.5,86.0 L410.2,93.0" fill="none" stroke="#111" stroke-width="1.55" stroke-linejoin="round" stroke-linecap="butt" stroke-dasharray="1.5 1.9"/>
<path d="M289.9,162.0 L309.5,144.6 L327.0,142.7 L356.3,141.1 L385.7,133.9 L409.2,126.1" fill="none" stroke="#111" stroke-width="1.55" stroke-linejoin="round" stroke-linecap="butt" stroke-dasharray="1.5 1.9"/>
</g>
<text x="397.2" y="42.3" font-size="8.6" text-anchor="middle" fill="#fff" stroke="#fff" stroke-width="0.4">22</text>
<text x="372.0" y="81.5" font-size="8.6" text-anchor="middle" fill="#fff" stroke="#fff" stroke-width="0.4">21</text>
<text x="341.9" y="123.3" font-size="8.6" text-anchor="middle" fill="#fff" stroke="#fff" stroke-width="0.4">20</text>
<text x="304.5" y="137.5" font-size="8.6" text-anchor="middle" fill="#fff" stroke="#fff" stroke-width="0.4">18</text>
<text x="278.5" y="151.6" font-size="8.6" text-anchor="middle" fill="#fff" stroke="#fff" stroke-width="0.4">12</text>
<text x="410.0" y="159.1" font-size="9.9" text-anchor="end" fill="#1a1a1a" stroke="#1a1a1a" stroke-width="0.12" textLength="83" lengthAdjust="spacingAndGlyphs">Flow rate = 1.5 m/s</text>
<path d="M263.0,163.2 L263.0,21.5 L411.5,21.5" fill="none" stroke="#9a9a9a" stroke-width="1"/>
<path d="M262.5,163.2 L411.5,163.2" fill="none" stroke="#3a3a3a" stroke-width="1"/>
<path d="M411.5,163.2 L411.5,21.5" fill="none" stroke="#3a3a3a" stroke-width="1"/>
<text x="260.4" y="25.8" font-size="9.6" text-anchor="end" fill="#1a1a1a" stroke="#1a1a1a" stroke-width="0.12">-4.0</text>
<text x="260.4" y="54.1" font-size="9.6" text-anchor="end" fill="#1a1a1a" stroke="#1a1a1a" stroke-width="0.12">-5.0</text>
<text x="260.4" y="82.5" font-size="9.6" text-anchor="end" fill="#1a1a1a" stroke="#1a1a1a" stroke-width="0.12">-5.9</text>
<text x="260.4" y="110.8" font-size="9.6" text-anchor="end" fill="#1a1a1a" stroke="#1a1a1a" stroke-width="0.12">-6.9</text>
<text x="260.4" y="139.2" font-size="9.6" text-anchor="end" fill="#1a1a1a" stroke="#1a1a1a" stroke-width="0.12">-7.8</text>
<text x="260.4" y="167.5" font-size="9.6" text-anchor="end" fill="#1a1a1a" stroke="#1a1a1a" stroke-width="0.12">-8.8</text>
<text x="263.0" y="176.0" font-size="9.8" text-anchor="middle" fill="#1a1a1a" stroke="#1a1a1a" stroke-width="0.12">15</text>
<text x="292.7" y="176.0" font-size="9.8" text-anchor="middle" fill="#1a1a1a" stroke="#1a1a1a" stroke-width="0.12">18</text>
<text x="322.4" y="176.0" font-size="9.8" text-anchor="middle" fill="#1a1a1a" stroke="#1a1a1a" stroke-width="0.12">21</text>
<text x="352.1" y="176.0" font-size="9.8" text-anchor="middle" fill="#1a1a1a" stroke="#1a1a1a" stroke-width="0.12">24</text>
<text x="381.8" y="176.0" font-size="9.8" text-anchor="middle" fill="#1a1a1a" stroke="#1a1a1a" stroke-width="0.12">27</text>
<text x="411.5" y="176.0" font-size="9.8" text-anchor="middle" fill="#1a1a1a" stroke="#1a1a1a" stroke-width="0.12">30</text>
<path d="M260.5,21.5 L263.0,21.5 M261.5,35.7 L263.0,35.7 M260.5,49.8 L263.0,49.8 M261.5,64.0 L263.0,64.0 M260.5,78.2 L263.0,78.2 M261.5,92.3 L263.0,92.3 M260.5,106.5 L263.0,106.5 M261.5,120.7 L263.0,120.7 M260.5,134.9 L263.0,134.9 M261.5,149.0 L263.0,149.0 M260.5,163.2 L263.0,163.2 M263.0,163.2 L263.0,165.7 M277.9,163.2 L277.9,165.0 M292.7,163.2 L292.7,165.7 M307.6,163.2 L307.6,165.0 M322.4,163.2 L322.4,165.7 M337.2,163.2 L337.2,165.0 M352.1,163.2 L352.1,165.7 M367.0,163.2 L367.0,165.0 M381.8,163.2 L381.8,165.7 M396.7,163.2 L396.7,165.0 M411.5,163.2 L411.5,165.7 " stroke="#333" stroke-width="0.9"/>
<text x="337.6" y="188.0" font-size="10.8" text-anchor="middle" fill="#1a1a1a" stroke="#1a1a1a" stroke-width="0.12" textLength="104.5" lengthAdjust="spacingAndGlyphs">Linear power (kW/m)</text>
<text transform="translate(242.6,100.2) rotate(-90)" x="0" y="0" font-size="11" text-anchor="middle" fill="#1a1a1a" textLength="153" lengthAdjust="spacingAndGlyphs">Oxygen concentration (lg.wt.%)</text>
<rect x="414.4" y="21.5" width="13.400000000000034" height="141.7" fill="url(#cb86)" stroke="#8a8a8a" stroke-width="0.8"/>
<text x="434.5" y="27.6" font-size="8.6" text-anchor="start" fill="#222">30.0</text>
<text x="434.5" y="38.9" font-size="8.6" text-anchor="start" fill="#222">27.5</text>
<text x="434.5" y="50.3" font-size="8.6" text-anchor="start" fill="#222">25.0</text>
<text x="434.5" y="61.6" font-size="8.6" text-anchor="start" fill="#222">22.5</text>
<text x="434.5" y="72.9" font-size="8.6" text-anchor="start" fill="#222">20.0</text>
<text x="434.5" y="84.3" font-size="8.6" text-anchor="start" fill="#222">17.5</text>
<text x="434.5" y="95.6" font-size="8.6" text-anchor="start" fill="#222">15.0</text>
<text x="434.5" y="106.9" font-size="8.6" text-anchor="start" fill="#222">12.5</text>
<text x="434.5" y="118.3" font-size="8.6" text-anchor="start" fill="#222">10.0</text>
<text x="434.5" y="129.6" font-size="8.6" text-anchor="start" fill="#222">7.5</text>
<text x="434.5" y="140.9" font-size="8.6" text-anchor="start" fill="#222">5.0</text>
<text x="434.5" y="152.3" font-size="8.6" text-anchor="start" fill="#222">2.5</text>
<text x="434.5" y="163.6" font-size="8.6" text-anchor="start" fill="#222">0.0</text>
<path d="M427.8,24.5 L430.3,24.5 M427.8,35.8 L430.3,35.8 M427.8,47.2 L430.3,47.2 M427.8,58.5 L430.3,58.5 M427.8,69.8 L430.3,69.8 M427.8,81.2 L430.3,81.2 M427.8,92.5 L430.3,92.5 M427.8,103.8 L430.3,103.8 M427.8,115.2 L430.3,115.2 M427.8,126.5 L430.3,126.5 M427.8,137.8 L430.3,137.8 M427.8,149.2 L430.3,149.2 M427.8,160.5 L430.3,160.5 " stroke="#555" stroke-width="0.9"/>
<g clip-path="url(#clip87)">
<g shape-rendering="crispEdges">
<rect x="491" y="21" width="149" height="2" fill="#b444ec"/>
<rect x="491" y="23" width="149" height="2" fill="#b646e5"/>
<rect x="491" y="25" width="149" height="2" fill="#b949dd"/>
<rect x="491" y="27" width="149" height="2" fill="#bb4bd6"/>
<rect x="491" y="29" width="149" height="2" fill="#be4ece"/>
<rect x="491" y="31" width="149" height="2" fill="#c050c7"/>
<rect x="491" y="33" width="149" height="2" fill="#c352c2"/>
<rect x="491" y="35" width="149" height="2" fill="#c654bc"/>
<rect x="491" y="37" width="149" height="2" fill="#c955b7"/>
<rect x="491" y="39" width="149" height="2" fill="#cb57b1"/>
<rect x="491" y="41" width="149" height="2" fill="#ce59ac"/>
<rect x="491" y="43" width="149" height="2" fill="#d05aa7"/>
<rect x="491" y="45" width="149" height="2" fill="#d25ba4"/>
<rect x="491" y="47" width="149" height="2" fill="#d35da1"/>
<rect x="491" y="49" width="149" height="2" fill="#d55e9e"/>
<rect x="491" y="51" width="149" height="2" fill="#d65f9b"/>
<rect x="491" y="53" width="149" height="2" fill="#d86098"/>
<rect x="491" y="55" width="149" height="2" fill="#d96195"/>
<rect x="491" y="57" width="149" height="2" fill="#db6392"/>
<rect x="491" y="59" width="149" height="2" fill="#dc6490"/>
<rect x="491" y="61" width="149" height="2" fill="#dc648f"/>
<rect x="491" y="63" width="149" height="2" fill="#dd658f"/>
<rect x="491" y="65" width="149" height="2" fill="#dd658e"/>
<rect x="491" y="67" width="149" height="2" fill="#dd658d"/>
<rect x="491" y="69" width="149" height="2" fill="#de668d"/>
<rect x="491" y="71" width="149" height="2" fill="#de668c"/>
<rect x="491" y="73" width="149" height="2" fill="#de668b"/>
<rect x="491" y="75" width="149" height="2" fill="#de668b"/>
<rect x="491" y="77" width="149" height="2" fill="#df678b"/>
<rect x="491" y="79" width="149" height="2" fill="#df678b"/>
<rect x="491" y="81" width="149" height="2" fill="#df678b"/>
<rect x="491" y="83" width="149" height="2" fill="#df678b"/>
<rect x="491" y="85" width="149" height="2" fill="#df678a"/>
<rect x="491" y="87" width="149" height="2" fill="#df678a"/>
<rect x="491" y="89" width="149" height="2" fill="#df678a"/>
<rect x="491" y="91" width="149" height="2" fill="#df678a"/>
<rect x="491" y="93" width="149" height="2" fill="#df678a"/>
<rect x="491" y="95" width="149" height="2" fill="#df678a"/>
<rect x="491" y="97" width="149" height="2" fill="#df678a"/>
<rect x="491" y="99" width="149" height="2" fill="#df678a"/>
<rect x="491" y="101" width="149" height="2" fill="#df678a"/>
<rect x="491" y="103" width="149" height="2" fill="#df678a"/>
<rect x="491" y="105" width="149" height="2" fill="#df678a"/>
<rect x="491" y="107" width="149" height="2" fill="#df6789"/>
<rect x="491" y="109" width="149" height="2" fill="#df6789"/>
<rect x="491" y="111" width="149" height="2" fill="#df6789"/>
<rect x="491" y="113" width="149" height="2" fill="#df6789"/>
<rect x="491" y="115" width="149" height="2" fill="#df6789"/>
<rect x="491" y="117" width="149" height="2" fill="#df6789"/>
<rect x="491" y="119" width="149" height="2" fill="#df6789"/>
<rect x="491" y="121" width="149" height="2" fill="#df6789"/>
<rect x="491" y="123" width="149" height="2" fill="#df6789"/>
<rect x="491" y="125" width="149" height="2" fill="#df6789"/>
<rect x="491" y="127" width="149" height="2" fill="#df6789"/>
<rect x="491" y="129" width="149" height="2" fill="#df6789"/>
<rect x="491" y="131" width="149" height="2" fill="#df6789"/>
<rect x="491" y="133" width="149" height="2" fill="#df6789"/>
<rect x="491" y="135" width="149" height="2" fill="#df6789"/>
<rect x="491" y="137" width="149" height="2" fill="#df6789"/>
<rect x="491" y="139" width="149" height="2" fill="#df6789"/>
<rect x="491" y="141" width="149" height="2" fill="#df6789"/>
<rect x="491" y="143" width="149" height="2" fill="#df6789"/>
<rect x="491" y="145" width="149" height="2" fill="#df6789"/>
<rect x="491" y="147" width="149" height="2" fill="#e06889"/>
<rect x="491" y="149" width="149" height="2" fill="#e06889"/>
<rect x="491" y="151" width="149" height="2" fill="#e06889"/>
<rect x="491" y="153" width="149" height="2" fill="#e06889"/>
<rect x="491" y="155" width="149" height="2" fill="#e06889"/>
<rect x="491" y="157" width="149" height="2" fill="#e06889"/>
<rect x="491" y="159" width="149" height="2" fill="#e06889"/>
<rect x="491" y="161" width="149" height="2" fill="#e06889"/>
</g>
<path d="M518.1,163.0 L518.1,161.8 L537.7,144.4 L555.2,142.5 L584.4,140.9 L613.8,133.7 L637.2,125.9 L639.5,125.9 L639.5,163.0 L491.3,163.0 Z" fill="url(#csal)"/>
<path d="M535,161.4 L547,159.2 L580,157.6 L639.5,156.0 L639.5,161.4 Z" fill="#d42424"/>
<rect x="491.3" y="161.2" width="148.2" height="2" fill="#f0b8b0"/>
<g mask="url(#m88)">
<path d="M491.3,31.7 L639.5,31.7" fill="none" stroke="#f4f4f4" stroke-width="0.9"/>
<path d="M491.3,43.4 L639.5,43.4" fill="none" stroke="#f4f4f4" stroke-width="0.9"/>
<path d="M491.3,59.4 L639.5,59.4" fill="none" stroke="#f4f4f4" stroke-width="0.9"/>
<path d="M491.3,74.6 L639.5,74.6" fill="none" stroke="#f4f4f4" stroke-width="0.9"/>
</g>
<path d="M545.3,22.0 L559.9,23.8 L564.5,26.1 L573.7,28.1 L587.5,29.2 L599.7,32.3 L615.2,33.0 L622.1,34.9 L632.0,35.3 L633.6,40.7 L635.9,51.4 L638.2,62.9" fill="none" stroke="#111" stroke-width="1.55" stroke-linejoin="round" stroke-linecap="butt" stroke-dasharray="1.5 1.9"/>
<path d="M491.8,91.5 L516.1,90.3 L527.8,84.1 L538.7,82.1 L564.9,85.1 L607.9,85.1 L629.4,82.5 L633.5,85.7 L638.2,92.8" fill="none" stroke="#111" stroke-width="1.55" stroke-linejoin="round" stroke-linecap="butt" stroke-dasharray="1.5 1.9"/>
<g mask="url(#m89)">
<path d="M518.1,161.8 L537.7,144.4 L555.2,142.5 L584.4,140.9 L613.8,133.7 L637.2,125.9" fill="none" stroke="#ffffff" stroke-width="1.3" stroke-linejoin="round" stroke-linecap="butt"/>
<path d="M518.1,161.8 L537.7,144.4 L555.2,142.5 L584.4,140.9 L613.8,133.7 L637.2,125.9" fill="none" stroke="#111" stroke-width="1.7" stroke-linejoin="round" stroke-linecap="butt" stroke-dasharray="1.5 1.9"/>
</g>
</g>
<text x="501.7" y="34.3" font-size="8.6" text-anchor="middle" fill="#fff" stroke="#fff" stroke-width="0.4">6.0</text>
<text x="534.8" y="46.0" font-size="8.6" text-anchor="middle" fill="#fff" stroke="#fff" stroke-width="0.4">4.0</text>
<text x="568.9" y="62.0" font-size="8.6" text-anchor="middle" fill="#fff" stroke="#fff" stroke-width="0.4">2.5</text>
<text x="599.1" y="77.2" font-size="8.6" text-anchor="middle" fill="#fff" stroke="#fff" stroke-width="0.4">2.2</text>
<text x="620.6" y="135.1" font-size="8.6" text-anchor="middle" fill="#fff" stroke="#fff" stroke-width="0.4">2.0</text>
<text x="637.0" y="156.0" font-size="9.9" text-anchor="end" fill="#1a1a1a" stroke="#1a1a1a" stroke-width="0.12" textLength="83" lengthAdjust="spacingAndGlyphs">Flow rate = 1.5 m/s</text>
<path d="M491.3,163.0 L491.3,21.2 L639.5,21.2" fill="none" stroke="#9a9a9a" stroke-width="1"/>
<path d="M490.8,163.0 L639.5,163.0" fill="none" stroke="#3a3a3a" stroke-width="1"/>
<path d="M639.5,163.0 L639.5,21.2" fill="none" stroke="#3a3a3a" stroke-width="1"/>
<text x="486.3" y="24.3" font-size="9.6" text-anchor="end" fill="#1a1a1a" stroke="#1a1a1a" stroke-width="0.12">-4.0</text>
<text x="486.3" y="52.7" font-size="9.6" text-anchor="end" fill="#1a1a1a" stroke="#1a1a1a" stroke-width="0.12">-5.0</text>
<text x="486.3" y="81.0" font-size="9.6" text-anchor="end" fill="#1a1a1a" stroke="#1a1a1a" stroke-width="0.12">-5.9</text>
<text x="486.3" y="109.4" font-size="9.6" text-anchor="end" fill="#1a1a1a" stroke="#1a1a1a" stroke-width="0.12">-6.9</text>
<text x="486.3" y="137.7" font-size="9.6" text-anchor="end" fill="#1a1a1a" stroke="#1a1a1a" stroke-width="0.12">-7.8</text>
<text x="486.3" y="166.1" font-size="9.6" text-anchor="end" fill="#1a1a1a" stroke="#1a1a1a" stroke-width="0.12">-8.8</text>
<text x="491.3" y="175.8" font-size="9.8" text-anchor="middle" fill="#1a1a1a" stroke="#1a1a1a" stroke-width="0.12">15</text>
<text x="520.9" y="175.8" font-size="9.8" text-anchor="middle" fill="#1a1a1a" stroke="#1a1a1a" stroke-width="0.12">18</text>
<text x="550.6" y="175.8" font-size="9.8" text-anchor="middle" fill="#1a1a1a" stroke="#1a1a1a" stroke-width="0.12">21</text>
<text x="580.2" y="175.8" font-size="9.8" text-anchor="middle" fill="#1a1a1a" stroke="#1a1a1a" stroke-width="0.12">24</text>
<text x="609.9" y="175.8" font-size="9.8" text-anchor="middle" fill="#1a1a1a" stroke="#1a1a1a" stroke-width="0.12">27</text>
<text x="639.5" y="175.8" font-size="9.8" text-anchor="middle" fill="#1a1a1a" stroke="#1a1a1a" stroke-width="0.12">30</text>
<path d="M488.8,21.2 L491.3,21.2 M489.8,35.4 L491.3,35.4 M488.8,49.6 L491.3,49.6 M489.8,63.7 L491.3,63.7 M488.8,77.9 L491.3,77.9 M489.8,92.1 L491.3,92.1 M488.8,106.3 L491.3,106.3 M489.8,120.5 L491.3,120.5 M488.8,134.6 L491.3,134.6 M489.8,148.8 L491.3,148.8 M488.8,163.0 L491.3,163.0 M491.3,163.0 L491.3,165.5 M506.1,163.0 L506.1,164.8 M520.9,163.0 L520.9,165.5 M535.8,163.0 L535.8,164.8 M550.6,163.0 L550.6,165.5 M565.4,163.0 L565.4,164.8 M580.2,163.0 L580.2,165.5 M595.0,163.0 L595.0,164.8 M609.9,163.0 L609.9,165.5 M624.7,163.0 L624.7,164.8 M639.5,163.0 L639.5,165.5 " stroke="#333" stroke-width="0.9"/>
<text x="565.7" y="187.8" font-size="10.8" text-anchor="middle" fill="#1a1a1a" stroke="#1a1a1a" stroke-width="0.12" textLength="104.5" lengthAdjust="spacingAndGlyphs">Linear power (kW/m)</text>
<text transform="translate(467.2,97.3) rotate(-90)" x="0" y="0" font-size="11" text-anchor="middle" fill="#1a1a1a" textLength="153" lengthAdjust="spacingAndGlyphs">Oxygen concentration (lg.wt.%)</text>
<rect x="641.9" y="21.2" width="13.600000000000023" height="141.8" fill="url(#cb90)" stroke="#8a8a8a" stroke-width="0.8"/>
<text x="662.3" y="26.9" font-size="8.6" text-anchor="start" fill="#222">10</text>
<text x="662.3" y="40.5" font-size="8.6" text-anchor="start" fill="#222">9.0</text>
<text x="662.3" y="54.1" font-size="8.6" text-anchor="start" fill="#222">8.0</text>
<text x="662.3" y="67.6" font-size="8.6" text-anchor="start" fill="#222">7.0</text>
<text x="662.3" y="81.2" font-size="8.6" text-anchor="start" fill="#222">6.0</text>
<text x="662.3" y="94.8" font-size="8.6" text-anchor="start" fill="#222">5.0</text>
<text x="662.3" y="108.4" font-size="8.6" text-anchor="start" fill="#222">4.0</text>
<text x="662.3" y="122.0" font-size="8.6" text-anchor="start" fill="#222">3.0</text>
<text x="662.3" y="135.7" font-size="8.6" text-anchor="start" fill="#222">2.0</text>
<text x="662.3" y="149.2" font-size="8.6" text-anchor="start" fill="#222">1.0</text>
<text x="662.3" y="162.8" font-size="8.6" text-anchor="start" fill="#222">0.0</text>
<path d="M655.5,23.8 L658.0,23.8 M655.5,37.4 L658.0,37.4 M655.5,51.0 L658.0,51.0 M655.5,64.5 L658.0,64.5 M655.5,78.2 L658.0,78.2 M655.5,91.8 L658.0,91.8 M655.5,105.3 L658.0,105.3 M655.5,119.0 L658.0,119.0 M655.5,132.6 L658.0,132.6 M655.5,146.2 L658.0,146.2 M655.5,159.8 L658.0,159.8 " stroke="#555" stroke-width="0.9"/>
<g clip-path="url(#clip91)">
<g shape-rendering="crispEdges">
<rect x="34" y="213" width="150" height="2" fill="url(#g92)"/>
<rect x="34" y="215" width="150" height="2" fill="url(#g93)"/>
<rect x="34" y="217" width="150" height="2" fill="url(#g94)"/>
<rect x="34" y="219" width="150" height="2" fill="url(#g95)"/>
<rect x="34" y="221" width="150" height="2" fill="url(#g96)"/>
<rect x="34" y="223" width="150" height="2" fill="url(#g97)"/>
<rect x="34" y="225" width="150" height="2" fill="url(#g98)"/>
<rect x="34" y="227" width="150" height="2" fill="url(#g99)"/>
<rect x="34" y="229" width="150" height="2" fill="url(#g100)"/>
<rect x="34" y="231" width="150" height="2" fill="url(#g101)"/>
<rect x="34" y="233" width="150" height="2" fill="url(#g102)"/>
<rect x="34" y="235" width="150" height="2" fill="url(#g103)"/>
<rect x="34" y="237" width="150" height="2" fill="url(#g104)"/>
<rect x="34" y="239" width="150" height="2" fill="url(#g105)"/>
<rect x="34" y="241" width="150" height="2" fill="url(#g106)"/>
<rect x="34" y="243" width="150" height="2" fill="url(#g107)"/>
<rect x="34" y="245" width="150" height="2" fill="url(#g108)"/>
<rect x="34" y="247" width="150" height="2" fill="url(#g109)"/>
<rect x="34" y="249" width="150" height="2" fill="url(#g110)"/>
<rect x="34" y="251" width="150" height="2" fill="url(#g111)"/>
<rect x="34" y="253" width="150" height="2" fill="url(#g112)"/>
<rect x="34" y="255" width="150" height="2" fill="url(#g113)"/>
<rect x="34" y="257" width="150" height="2" fill="url(#g114)"/>
<rect x="34" y="259" width="150" height="2" fill="url(#g115)"/>
<rect x="34" y="261" width="150" height="2" fill="url(#g116)"/>
<rect x="34" y="263" width="150" height="2" fill="url(#g117)"/>
<rect x="34" y="265" width="150" height="2" fill="url(#g118)"/>
<rect x="34" y="267" width="150" height="2" fill="url(#g119)"/>
<rect x="34" y="269" width="150" height="2" fill="url(#g120)"/>
<rect x="34" y="271" width="150" height="2" fill="url(#g121)"/>
<rect x="34" y="273" width="150" height="2" fill="url(#g122)"/>
<rect x="34" y="275" width="150" height="2" fill="url(#g123)"/>
<rect x="34" y="277" width="150" height="2" fill="url(#g124)"/>
<rect x="34" y="279" width="150" height="2" fill="url(#g125)"/>
<rect x="34" y="281" width="150" height="2" fill="url(#g126)"/>
<rect x="34" y="283" width="150" height="2" fill="url(#g127)"/>
<rect x="34" y="285" width="150" height="2" fill="url(#g128)"/>
<rect x="34" y="287" width="150" height="2" fill="url(#g129)"/>
<rect x="34" y="289" width="150" height="2" fill="url(#g130)"/>
<rect x="34" y="291" width="150" height="2" fill="url(#g131)"/>
<rect x="34" y="293" width="150" height="2" fill="url(#g132)"/>
<rect x="34" y="295" width="150" height="2" fill="url(#g133)"/>
<rect x="34" y="297" width="150" height="2" fill="url(#g134)"/>
<rect x="34" y="299" width="150" height="2" fill="url(#g135)"/>
<rect x="34" y="301" width="150" height="2" fill="url(#g136)"/>
<rect x="34" y="303" width="150" height="2" fill="url(#g137)"/>
<rect x="34" y="305" width="150" height="2" fill="url(#g138)"/>
<rect x="34" y="307" width="150" height="2" fill="url(#g139)"/>
<rect x="34" y="309" width="150" height="2" fill="url(#g140)"/>
<rect x="34" y="311" width="150" height="2" fill="url(#g141)"/>
<rect x="34" y="313" width="150" height="2" fill="url(#g142)"/>
<rect x="34" y="315" width="150" height="2" fill="url(#g143)"/>
<rect x="34" y="317" width="150" height="2" fill="url(#g144)"/>
<rect x="34" y="319" width="150" height="2" fill="url(#g145)"/>
<rect x="34" y="321" width="150" height="2" fill="url(#g146)"/>
<rect x="34" y="323" width="150" height="2" fill="url(#g147)"/>
<rect x="34" y="325" width="150" height="2" fill="url(#g148)"/>
<rect x="34" y="327" width="150" height="2" fill="url(#g149)"/>
<rect x="34" y="329" width="150" height="2" fill="url(#g150)"/>
<rect x="34" y="331" width="150" height="2" fill="url(#g151)"/>
<rect x="34" y="333" width="150" height="2" fill="url(#g152)"/>
<rect x="34" y="335" width="150" height="2" fill="url(#g153)"/>
<rect x="34" y="337" width="150" height="2" fill="url(#g154)"/>
<rect x="34" y="339" width="150" height="2" fill="url(#g155)"/>
<rect x="34" y="341" width="150" height="2" fill="url(#g156)"/>
<rect x="34" y="343" width="150" height="2" fill="url(#g157)"/>
<rect x="34" y="345" width="150" height="2" fill="url(#g158)"/>
<rect x="34" y="347" width="150" height="2" fill="url(#g159)"/>
<rect x="34" y="349" width="150" height="2" fill="url(#g160)"/>
<rect x="34" y="351" width="150" height="2" fill="url(#g161)"/>
<rect x="34" y="353" width="150" height="2" fill="url(#g162)"/>
<rect x="34" y="355" width="150" height="2" fill="url(#g163)"/>
</g>
<g mask="url(#m164)">
<path d="M41.3,213.3 C41.8,219.2 43.7,237.6 44.6,249.0 C45.5,260.4 45.5,274.1 46.6,282.0 C47.8,289.9 46.7,289.0 51.5,296.6 C56.3,304.2 68.8,318.1 75.3,327.9 C81.8,337.7 88.0,350.6 90.5,355.2" fill="none" stroke="#111" stroke-width="0.85"/>
<path d="M83.7,213.3 C84.3,219.2 86.5,237.6 87.6,249.0 C88.7,260.4 88.9,274.2 90.5,282.0 C92.1,289.8 95.3,292.4 97.3,295.7 C99.2,298.9 99.8,299.6 102.2,301.5 C104.6,303.4 106.1,302.3 111.9,307.4 C117.7,312.4 130.2,323.8 137.2,331.8 C144.2,339.8 151.0,351.3 153.8,355.2" fill="none" stroke="#111" stroke-width="0.85"/>
<path d="M124.5,213.3 C125.5,219.2 128.9,239.2 130.4,249.0 C131.9,258.9 132.8,266.9 133.3,272.4 C133.8,277.9 131.6,278.0 133.5,282.0 C135.4,286.0 141.1,291.4 145.0,296.6 C148.9,301.8 152.1,308.8 156.7,313.2 C161.2,317.6 167.9,319.9 172.3,323.0 C176.7,326.1 181.5,330.3 183.3,331.8" fill="none" stroke="#111" stroke-width="0.85"/>
<path d="M151.1,213.3 C151.8,214.9 153.9,219.2 155.0,223.0 C156.1,226.8 157.0,232.1 157.6,236.0 C158.2,239.9 158.0,243.7 158.3,246.5 C158.6,249.3 159.1,246.9 159.6,252.8 C160.1,258.7 160.1,275.5 161.6,282.0 C163.1,288.5 164.8,287.6 168.4,291.8 C172.0,296.0 180.8,304.8 183.3,307.4" fill="none" stroke="#111" stroke-width="0.85"/>
<path d="M173.6,213.3 C174.0,215.1 175.0,220.2 175.9,224.3 C176.8,228.4 177.9,233.9 179.1,238.0 C180.3,242.1 182.6,247.2 183.3,249.0" fill="none" stroke="#111" stroke-width="0.85"/>
</g>
<path d="M88.6,214.1 L103.3,215.9 L107.9,218.2 L117.2,220.2 L131.0,221.3 L143.3,224.4 L158.8,225.1 L165.8,227.0 L175.7,227.4 L177.4,232.8 L179.7,243.5 L182.0,255.1" fill="none" stroke="#fff" stroke-width="1.6" stroke-linejoin="round" stroke-linecap="butt" stroke-dasharray="1.5 1.9"/>
<path d="M34.8,283.7 L59.3,282.5 L71.0,276.3 L81.9,274.3 L108.3,277.3 L151.5,277.3 L173.1,274.7 L177.3,277.9 L182.0,284.9" fill="none" stroke="#fff" stroke-width="1.6" stroke-linejoin="round" stroke-linecap="butt" stroke-dasharray="1.5 1.9"/>
<path d="M61.3,354.0 L80.9,336.6 L98.5,334.7 L127.9,333.1 L157.4,325.9 L181.0,318.0" fill="none" stroke="#fff" stroke-width="1.6" stroke-linejoin="round" stroke-linecap="butt" stroke-dasharray="1.5 1.9"/>
</g>
<text x="75.3" y="330.9" font-size="9.2" text-anchor="middle" fill="#111" font-weight="bold">781.4</text>
<text x="102.2" y="304.5" font-size="9.2" text-anchor="middle" fill="#111" font-weight="bold">785.8</text>
<text x="133.3" y="275.4" font-size="9.2" text-anchor="middle" fill="#111" font-weight="bold">790.2</text>
<text x="159.6" y="255.8" font-size="9.2" text-anchor="middle" fill="#111" font-weight="bold">793.8</text>
<text x="170.6" y="233.9" font-size="9.2" text-anchor="middle" fill="#111" font-weight="bold">796.9</text>
<text x="181.0" y="351.9" font-size="9.9" text-anchor="end" fill="#1a1a1a" stroke="#1a1a1a" stroke-width="0.12" textLength="83" lengthAdjust="spacingAndGlyphs">Flow rate = 1.5 m/s</text>
<path d="M34.3,355.2 L34.3,213.3 L183.3,213.3" fill="none" stroke="#9a9a9a" stroke-width="1"/>
<path d="M33.8,355.2 L183.3,355.2" fill="none" stroke="#8a8a8a" stroke-width="1"/>
<path d="M183.3,355.2 L183.3,213.3" fill="none" stroke="#3a3a3a" stroke-width="1"/>
<text x="29.6" y="216.4" font-size="9.6" text-anchor="end" fill="#1a1a1a" stroke="#1a1a1a" stroke-width="0.12">-4.0</text>
<text x="29.6" y="244.8" font-size="9.6" text-anchor="end" fill="#1a1a1a" stroke="#1a1a1a" stroke-width="0.12">-5.0</text>
<text x="29.6" y="273.2" font-size="9.6" text-anchor="end" fill="#1a1a1a" stroke="#1a1a1a" stroke-width="0.12">-5.9</text>
<text x="29.6" y="301.5" font-size="9.6" text-anchor="end" fill="#1a1a1a" stroke="#1a1a1a" stroke-width="0.12">-6.9</text>
<text x="29.6" y="329.9" font-size="9.6" text-anchor="end" fill="#1a1a1a" stroke="#1a1a1a" stroke-width="0.12">-7.8</text>
<text x="29.6" y="358.3" font-size="9.6" text-anchor="end" fill="#1a1a1a" stroke="#1a1a1a" stroke-width="0.12">-8.8</text>
<text x="34.3" y="368.0" font-size="9.8" text-anchor="middle" fill="#1a1a1a" stroke="#1a1a1a" stroke-width="0.12">15</text>
<text x="64.1" y="368.0" font-size="9.8" text-anchor="middle" fill="#1a1a1a" stroke="#1a1a1a" stroke-width="0.12">18</text>
<text x="93.9" y="368.0" font-size="9.8" text-anchor="middle" fill="#1a1a1a" stroke="#1a1a1a" stroke-width="0.12">21</text>
<text x="123.7" y="368.0" font-size="9.8" text-anchor="middle" fill="#1a1a1a" stroke="#1a1a1a" stroke-width="0.12">24</text>
<text x="153.5" y="368.0" font-size="9.8" text-anchor="middle" fill="#1a1a1a" stroke="#1a1a1a" stroke-width="0.12">27</text>
<text x="183.3" y="368.0" font-size="9.8" text-anchor="middle" fill="#1a1a1a" stroke="#1a1a1a" stroke-width="0.12">30</text>
<path d="M31.799999999999997,213.3 L34.3,213.3 M32.8,227.5 L34.3,227.5 M31.799999999999997,241.7 L34.3,241.7 M32.8,255.9 L34.3,255.9 M31.799999999999997,270.1 L34.3,270.1 M32.8,284.2 L34.3,284.2 M31.799999999999997,298.4 L34.3,298.4 M32.8,312.6 L34.3,312.6 M31.799999999999997,326.8 L34.3,326.8 M32.8,341.0 L34.3,341.0 M31.799999999999997,355.2 L34.3,355.2 M34.3,355.2 L34.3,357.7 M49.2,355.2 L49.2,357.0 M64.1,355.2 L64.1,357.7 M79.0,355.2 L79.0,357.0 M93.9,355.2 L93.9,357.7 M108.8,355.2 L108.8,357.0 M123.7,355.2 L123.7,357.7 M138.6,355.2 L138.6,357.0 M153.5,355.2 L153.5,357.7 M168.4,355.2 L168.4,357.0 M183.3,355.2 L183.3,357.7 " stroke="#333" stroke-width="0.9"/>
<text x="109.1" y="380.0" font-size="10.8" text-anchor="middle" fill="#1a1a1a" stroke="#1a1a1a" stroke-width="0.12" textLength="104.5" lengthAdjust="spacingAndGlyphs">Linear power (kW/m)</text>
<text transform="translate(10.6,289.2) rotate(-90)" x="0" y="0" font-size="11" text-anchor="middle" fill="#1a1a1a" textLength="153" lengthAdjust="spacingAndGlyphs">Oxygen concentration (lg.wt.%)</text>
<rect x="185.8" y="213.3" width="14.199999999999989" height="141.89999999999998" fill="url(#cb165)" stroke="#8a8a8a" stroke-width="0.8"/>
<text x="206.5" y="218.6" font-size="8.6" text-anchor="start" fill="#222">799.0</text>
<text x="206.5" y="246.2" font-size="8.6" text-anchor="start" fill="#222">794.6</text>
<text x="206.5" y="273.8" font-size="8.6" text-anchor="start" fill="#222">790.2</text>
<text x="206.5" y="301.4" font-size="8.6" text-anchor="start" fill="#222">785.8</text>
<text x="206.5" y="329.0" font-size="8.6" text-anchor="start" fill="#222">781.4</text>
<text x="206.5" y="356.6" font-size="8.6" text-anchor="start" fill="#222">777.0</text>
<path d="M200,215.5 L202.5,215.5 M200,243.1 L202.5,243.1 M200,270.7 L202.5,270.7 M200,298.3 L202.5,298.3 M200,325.9 L202.5,325.9 M200,353.5 L202.5,353.5 " stroke="#555" stroke-width="0.9"/>
<g clip-path="url(#clip166)">
<g shape-rendering="crispEdges">
<rect x="264" y="214" width="149" height="2" fill="url(#g167)"/>
<rect x="264" y="216" width="149" height="2" fill="url(#g168)"/>
<rect x="264" y="218" width="149" height="2" fill="url(#g169)"/>
<rect x="264" y="220" width="149" height="2" fill="url(#g170)"/>
<rect x="264" y="222" width="149" height="2" fill="url(#g171)"/>
<rect x="264" y="224" width="149" height="2" fill="url(#g172)"/>
<rect x="264" y="226" width="149" height="2" fill="url(#g173)"/>
<rect x="264" y="228" width="149" height="2" fill="url(#g174)"/>
<rect x="264" y="230" width="149" height="2" fill="url(#g175)"/>
<rect x="264" y="232" width="149" height="2" fill="url(#g176)"/>
<rect x="264" y="234" width="149" height="2" fill="url(#g177)"/>
<rect x="264" y="236" width="149" height="2" fill="url(#g178)"/>
<rect x="264" y="238" width="149" height="2" fill="url(#g179)"/>
<rect x="264" y="240" width="149" height="2" fill="url(#g180)"/>
<rect x="264" y="242" width="149" height="2" fill="url(#g181)"/>
<rect x="264" y="244" width="149" height="2" fill="url(#g182)"/>
<rect x="264" y="246" width="149" height="2" fill="url(#g183)"/>
<rect x="264" y="248" width="149" height="2" fill="url(#g184)"/>
<rect x="264" y="250" width="149" height="2" fill="url(#g185)"/>
<rect x="264" y="252" width="149" height="2" fill="url(#g186)"/>
<rect x="264" y="254" width="149" height="2" fill="url(#g187)"/>
<rect x="264" y="256" width="149" height="2" fill="url(#g188)"/>
<rect x="264" y="258" width="149" height="2" fill="url(#g189)"/>
<rect x="264" y="260" width="149" height="2" fill="url(#g190)"/>
<rect x="264" y="262" width="149" height="2" fill="url(#g191)"/>
<rect x="264" y="264" width="149" height="2" fill="url(#g192)"/>
<rect x="264" y="266" width="149" height="2" fill="url(#g193)"/>
<rect x="264" y="268" width="149" height="2" fill="url(#g194)"/>
<rect x="264" y="270" width="149" height="2" fill="url(#g195)"/>
<rect x="264" y="272" width="149" height="2" fill="url(#g196)"/>
<rect x="264" y="274" width="149" height="2" fill="url(#g197)"/>
<rect x="264" y="276" width="149" height="2" fill="url(#g198)"/>
<rect x="264" y="278" width="149" height="2" fill="url(#g199)"/>
<rect x="264" y="280" width="149" height="2" fill="url(#g200)"/>
<rect x="264" y="282" width="149" height="2" fill="url(#g201)"/>
<rect x="264" y="284" width="149" height="2" fill="url(#g202)"/>
<rect x="264" y="286" width="149" height="2" fill="url(#g203)"/>
<rect x="264" y="288" width="149" height="2" fill="url(#g204)"/>
<rect x="264" y="290" width="149" height="2" fill="url(#g205)"/>
<rect x="264" y="292" width="149" height="2" fill="url(#g206)"/>
<rect x="264" y="294" width="149" height="2" fill="url(#g207)"/>
<rect x="264" y="296" width="149" height="2" fill="url(#g208)"/>
<rect x="264" y="298" width="149" height="2" fill="url(#g209)"/>
<rect x="264" y="300" width="149" height="2" fill="url(#g210)"/>
<rect x="264" y="302" width="149" height="2" fill="url(#g211)"/>
<rect x="264" y="304" width="149" height="2" fill="url(#g212)"/>
<rect x="264" y="306" width="149" height="2" fill="url(#g213)"/>
<rect x="264" y="308" width="149" height="2" fill="url(#g214)"/>
<rect x="264" y="310" width="149" height="2" fill="url(#g215)"/>
<rect x="264" y="312" width="149" height="2" fill="url(#g216)"/>
<rect x="264" y="314" width="149" height="2" fill="url(#g217)"/>
<rect x="264" y="316" width="149" height="2" fill="url(#g218)"/>
<rect x="264" y="318" width="149" height="2" fill="url(#g219)"/>
<rect x="264" y="320" width="149" height="2" fill="url(#g220)"/>
<rect x="264" y="322" width="149" height="2" fill="url(#g221)"/>
<rect x="264" y="324" width="149" height="2" fill="url(#g222)"/>
<rect x="264" y="326" width="149" height="2" fill="url(#g223)"/>
<rect x="264" y="328" width="149" height="2" fill="url(#g224)"/>
<rect x="264" y="330" width="149" height="2" fill="url(#g225)"/>
<rect x="264" y="332" width="149" height="2" fill="url(#g226)"/>
<rect x="264" y="334" width="149" height="2" fill="url(#g227)"/>
<rect x="264" y="336" width="149" height="2" fill="url(#g228)"/>
<rect x="264" y="338" width="149" height="2" fill="url(#g229)"/>
<rect x="264" y="340" width="149" height="2" fill="url(#g230)"/>
<rect x="264" y="342" width="149" height="2" fill="url(#g231)"/>
<rect x="264" y="344" width="149" height="2" fill="url(#g232)"/>
<rect x="264" y="346" width="149" height="2" fill="url(#g233)"/>
<rect x="264" y="348" width="149" height="2" fill="url(#g234)"/>
<rect x="264" y="350" width="149" height="2" fill="url(#g235)"/>
<rect x="264" y="352" width="149" height="2" fill="url(#g236)"/>
<rect x="264" y="354" width="149" height="2" fill="url(#g237)"/>
</g>
<g mask="url(#m238)">
<path d="M298.0,214.7 L303.9,249.0 L305.9,285.0 L313.7,292.7 L324.0,300.5 L336.0,306.4 L359.4,322.0 L380.9,331.8 L412.2,345.4" fill="none" stroke="#f4f4f4" stroke-width="0.9" stroke-linejoin="round" stroke-linecap="butt"/>
<path d="M337.0,214.7 L342.8,229.5 L347.7,270.5 L348.7,285.0 L365.3,298.6 L412.2,313.2" fill="none" stroke="#f4f4f4" stroke-width="0.9" stroke-linejoin="round" stroke-linecap="butt"/>
<path d="M374.0,214.7 L381.9,229.5 L382.8,239.7 L383.8,250.0 L388.7,285.0 L398.4,298.6 L412.2,301.5" fill="none" stroke="#f4f4f4" stroke-width="0.9" stroke-linejoin="round" stroke-linecap="butt"/>
<path d="M264.6,284.5 L281.5,301.5 L295.1,313.2 L305.9,321.0 L307.8,327.9 L326.3,346.4 L338.0,355.2" fill="none" stroke="#f4f4f4" stroke-width="0.9" stroke-linejoin="round" stroke-linecap="butt"/>
<path d="M265.9,311.3 L275.6,336.6 L280.5,344.0 L292.2,355.2" fill="none" stroke="#f4f4f4" stroke-width="0.9" stroke-linejoin="round" stroke-linecap="butt"/>
</g>
<path d="M318.4,215.5 L332.9,217.3 L337.5,219.6 L346.7,221.5 L360.4,222.6 L372.6,225.7 L388.0,226.4 L394.8,228.3 L404.7,228.7 L406.3,234.0 L408.6,244.6 L410.9,256.0" fill="none" stroke="#111" stroke-width="1.55" stroke-linejoin="round" stroke-linecap="butt" stroke-dasharray="1.5 1.9"/>
<path d="M265.1,284.4 L289.3,283.2 L301.0,277.1 L311.8,275.1 L337.9,278.1 L380.7,278.1 L402.1,275.5 L406.2,278.7 L410.9,285.6" fill="none" stroke="#111" stroke-width="1.55" stroke-linejoin="round" stroke-linecap="butt" stroke-dasharray="1.5 1.9"/>
<path d="M291.3,354.0 L310.8,336.8 L328.2,334.9 L357.3,333.3 L386.6,326.1 L409.9,318.4" fill="none" stroke="#111" stroke-width="1.55" stroke-linejoin="round" stroke-linecap="butt" stroke-dasharray="1.5 1.9"/>
</g>
<text x="382.8" y="242.3" font-size="8.6" text-anchor="middle" fill="#fff" stroke="#fff" stroke-width="0.4">0.714</text>
<text x="347.7" y="273.1" font-size="8.6" text-anchor="middle" fill="#fff" stroke="#fff" stroke-width="0.4">0.669</text>
<text x="324.0" y="303.1" font-size="8.6" text-anchor="middle" fill="#fff" stroke="#fff" stroke-width="0.4">0.623</text>
<text x="305.9" y="323.6" font-size="8.6" text-anchor="middle" fill="#fff" stroke="#fff" stroke-width="0.4">0.578</text>
<text x="280.5" y="346.6" font-size="8.6" text-anchor="middle" fill="#fff" stroke="#fff" stroke-width="0.4">0.549</text>
<text x="411.0" y="351.9" font-size="9.9" text-anchor="end" fill="#1a1a1a" stroke="#1a1a1a" stroke-width="0.12" textLength="83" lengthAdjust="spacingAndGlyphs">Flow rate = 1.5 m/s</text>
<path d="M264.6,355.2 L264.6,214.7 L412.2,214.7" fill="none" stroke="#9a9a9a" stroke-width="1"/>
<path d="M264.1,355.2 L412.2,355.2" fill="none" stroke="#8a8a8a" stroke-width="1"/>
<path d="M412.2,355.2 L412.2,214.7" fill="none" stroke="#3a3a3a" stroke-width="1"/>
<text x="260.2" y="217.4" font-size="9.6" text-anchor="end" fill="#1a1a1a" stroke="#1a1a1a" stroke-width="0.12">-4.0</text>
<text x="260.2" y="245.5" font-size="9.6" text-anchor="end" fill="#1a1a1a" stroke="#1a1a1a" stroke-width="0.12">-5.0</text>
<text x="260.2" y="273.6" font-size="9.6" text-anchor="end" fill="#1a1a1a" stroke="#1a1a1a" stroke-width="0.12">-5.9</text>
<text x="260.2" y="301.7" font-size="9.6" text-anchor="end" fill="#1a1a1a" stroke="#1a1a1a" stroke-width="0.12">-6.9</text>
<text x="260.2" y="329.8" font-size="9.6" text-anchor="end" fill="#1a1a1a" stroke="#1a1a1a" stroke-width="0.12">-7.8</text>
<text x="260.2" y="357.9" font-size="9.6" text-anchor="end" fill="#1a1a1a" stroke="#1a1a1a" stroke-width="0.12">-8.8</text>
<text x="264.6" y="368.0" font-size="9.8" text-anchor="middle" fill="#1a1a1a" stroke="#1a1a1a" stroke-width="0.12">15</text>
<text x="294.1" y="368.0" font-size="9.8" text-anchor="middle" fill="#1a1a1a" stroke="#1a1a1a" stroke-width="0.12">18</text>
<text x="323.6" y="368.0" font-size="9.8" text-anchor="middle" fill="#1a1a1a" stroke="#1a1a1a" stroke-width="0.12">21</text>
<text x="353.2" y="368.0" font-size="9.8" text-anchor="middle" fill="#1a1a1a" stroke="#1a1a1a" stroke-width="0.12">24</text>
<text x="382.7" y="368.0" font-size="9.8" text-anchor="middle" fill="#1a1a1a" stroke="#1a1a1a" stroke-width="0.12">27</text>
<text x="412.2" y="368.0" font-size="9.8" text-anchor="middle" fill="#1a1a1a" stroke="#1a1a1a" stroke-width="0.12">30</text>
<path d="M262.1,214.7 L264.6,214.7 M263.1,228.8 L264.6,228.8 M262.1,242.8 L264.6,242.8 M263.1,256.8 L264.6,256.8 M262.1,270.9 L264.6,270.9 M263.1,284.9 L264.6,284.9 M262.1,299.0 L264.6,299.0 M263.1,313.1 L264.6,313.1 M262.1,327.1 L264.6,327.1 M263.1,341.2 L264.6,341.2 M262.1,355.2 L264.6,355.2 M264.6,355.2 L264.6,357.7 M279.4,355.2 L279.4,357.0 M294.1,355.2 L294.1,357.7 M308.9,355.2 L308.9,357.0 M323.6,355.2 L323.6,357.7 M338.4,355.2 L338.4,357.0 M353.2,355.2 L353.2,357.7 M367.9,355.2 L367.9,357.0 M382.7,355.2 L382.7,357.7 M397.4,355.2 L397.4,357.0 M412.2,355.2 L412.2,357.7 " stroke="#333" stroke-width="0.9"/>
<text x="338.7" y="380.0" font-size="10.8" text-anchor="middle" fill="#1a1a1a" stroke="#1a1a1a" stroke-width="0.12" textLength="104.5" lengthAdjust="spacingAndGlyphs">Linear power (kW/m)</text>
<text transform="translate(241.0,291.2) rotate(-90)" x="0" y="0" font-size="11" text-anchor="middle" fill="#1a1a1a" textLength="153" lengthAdjust="spacingAndGlyphs">Oxygen concentration (lg.wt.%)</text>
<rect x="414.7" y="214.7" width="13.600000000000023" height="140.5" fill="url(#cb239)" stroke="#8a8a8a" stroke-width="0.8"/>
<text x="434.5" y="219.8" font-size="8.6" text-anchor="start" fill="#222">0.760</text>
<text x="434.5" y="247.1" font-size="8.6" text-anchor="start" fill="#222">0.714</text>
<text x="434.5" y="274.4" font-size="8.6" text-anchor="start" fill="#222">0.669</text>
<text x="434.5" y="301.8" font-size="8.6" text-anchor="start" fill="#222">0.623</text>
<text x="434.5" y="329.1" font-size="8.6" text-anchor="start" fill="#222">0.578</text>
<text x="434.5" y="356.4" font-size="8.6" text-anchor="start" fill="#222">0.532</text>
<path d="M428.3,216.7 L430.8,216.7 M428.3,244.0 L430.8,244.0 M428.3,271.3 L430.8,271.3 M428.3,298.7 L430.8,298.7 M428.3,326.0 L430.8,326.0 M428.3,353.3 L430.8,353.3 " stroke="#555" stroke-width="0.9"/>
<g clip-path="url(#clip240)">
<g shape-rendering="crispEdges">
<rect x="492" y="214" width="149" height="141" fill="url(#g241)"/>
<rect x="492" y="355" width="149" height="141" fill="url(#g242)"/>
</g>
<g mask="url(#m243)">
<path d="M500.7,214.7 L500.7,355.2" fill="none" stroke="#f4f4f4" stroke-width="0.9" stroke-linejoin="round" stroke-linecap="butt"/>
<path d="M523.5,214.7 L523.5,355.2" fill="none" stroke="#f4f4f4" stroke-width="0.9" stroke-linejoin="round" stroke-linecap="butt"/>
<path d="M554.7,214.7 L554.7,355.2" fill="none" stroke="#f4f4f4" stroke-width="0.9" stroke-linejoin="round" stroke-linecap="butt"/>
<path d="M583.5,214.7 L583.5,355.2" fill="none" stroke="#f4f4f4" stroke-width="0.9" stroke-linejoin="round" stroke-linecap="butt"/>
<path d="M612.4,214.7 L612.4,355.2" fill="none" stroke="#f4f4f4" stroke-width="0.9" stroke-linejoin="round" stroke-linecap="butt"/>
<path d="M630.7,214.7 L630.7,355.2" fill="none" stroke="#f4f4f4" stroke-width="0.9" stroke-linejoin="round" stroke-linecap="butt"/>
</g>
<path d="M546.2,215.5 L560.8,217.3 L565.4,219.6 L574.6,221.5 L588.4,222.6 L600.6,225.7 L615.9,226.4 L622.8,228.3 L632.7,228.7 L634.3,234.0 L636.6,244.6 L638.9,256.0" fill="none" stroke="#111" stroke-width="1.55" stroke-linejoin="round" stroke-linecap="butt" stroke-dasharray="1.5 1.9"/>
<path d="M492.9,284.4 L517.2,283.2 L528.9,277.1 L539.6,275.1 L565.8,278.1 L608.6,278.1 L630.1,275.5 L634.2,278.7 L638.9,285.6" fill="none" stroke="#111" stroke-width="1.55" stroke-linejoin="round" stroke-linecap="butt" stroke-dasharray="1.5 1.9"/>
<path d="M519.2,354.0 L538.6,336.8 L556.1,334.9 L585.3,333.3 L614.5,326.1 L637.9,318.4" fill="none" stroke="#111" stroke-width="1.55" stroke-linejoin="round" stroke-linecap="butt" stroke-dasharray="1.5 1.9"/>
</g>
<text x="507.5" y="230.2" font-size="8.6" text-anchor="middle" fill="#fff" stroke="#fff" stroke-width="0.4">0.680</text>
<text x="529.0" y="251.2" font-size="8.6" text-anchor="middle" fill="#fff" stroke="#fff" stroke-width="0.4">0.709</text>
<text x="555.3" y="272.1" font-size="8.6" text-anchor="middle" fill="#fff" stroke="#fff" stroke-width="0.4">0.750</text>
<text x="584.5" y="303.5" font-size="8.6" text-anchor="middle" fill="#fff" stroke="#fff" stroke-width="0.4">0.790</text>
<text x="611.8" y="321.7" font-size="8.6" text-anchor="middle" fill="#fff" stroke="#fff" stroke-width="0.4">0.831</text>
<text x="628.4" y="345.7" font-size="8.6" text-anchor="middle" fill="#fff" stroke="#fff" stroke-width="0.4">0.856</text>
<text x="495.4" y="351.9" font-size="9.9" text-anchor="start" fill="#1a1a1a" stroke="#1a1a1a" stroke-width="0.12" textLength="83" lengthAdjust="spacingAndGlyphs">Flow rate = 1.5 m/s</text>
<path d="M492.4,355.2 L492.4,214.7 L640.2,214.7" fill="none" stroke="#9a9a9a" stroke-width="1"/>
<path d="M491.9,355.2 L640.2,355.2" fill="none" stroke="#8a8a8a" stroke-width="1"/>
<path d="M640.2,355.2 L640.2,214.7" fill="none" stroke="#3a3a3a" stroke-width="1"/>
<text x="488.2" y="217.9" font-size="9.6" text-anchor="end" fill="#1a1a1a" stroke="#1a1a1a" stroke-width="0.12">-4.0</text>
<text x="488.2" y="246.0" font-size="9.6" text-anchor="end" fill="#1a1a1a" stroke="#1a1a1a" stroke-width="0.12">-5.0</text>
<text x="488.2" y="274.1" font-size="9.6" text-anchor="end" fill="#1a1a1a" stroke="#1a1a1a" stroke-width="0.12">-5.9</text>
<text x="488.2" y="302.2" font-size="9.6" text-anchor="end" fill="#1a1a1a" stroke="#1a1a1a" stroke-width="0.12">-6.9</text>
<text x="488.2" y="330.3" font-size="9.6" text-anchor="end" fill="#1a1a1a" stroke="#1a1a1a" stroke-width="0.12">-7.8</text>
<text x="488.2" y="358.4" font-size="9.6" text-anchor="end" fill="#1a1a1a" stroke="#1a1a1a" stroke-width="0.12">-8.8</text>
<text x="492.4" y="368.0" font-size="9.8" text-anchor="middle" fill="#1a1a1a" stroke="#1a1a1a" stroke-width="0.12">15</text>
<text x="522.0" y="368.0" font-size="9.8" text-anchor="middle" fill="#1a1a1a" stroke="#1a1a1a" stroke-width="0.12">18</text>
<text x="551.5" y="368.0" font-size="9.8" text-anchor="middle" fill="#1a1a1a" stroke="#1a1a1a" stroke-width="0.12">21</text>
<text x="581.1" y="368.0" font-size="9.8" text-anchor="middle" fill="#1a1a1a" stroke="#1a1a1a" stroke-width="0.12">24</text>
<text x="610.6" y="368.0" font-size="9.8" text-anchor="middle" fill="#1a1a1a" stroke="#1a1a1a" stroke-width="0.12">27</text>
<text x="640.2" y="368.0" font-size="9.8" text-anchor="middle" fill="#1a1a1a" stroke="#1a1a1a" stroke-width="0.12">30</text>
<path d="M489.9,214.7 L492.4,214.7 M490.9,228.8 L492.4,228.8 M489.9,242.8 L492.4,242.8 M490.9,256.8 L492.4,256.8 M489.9,270.9 L492.4,270.9 M490.9,284.9 L492.4,284.9 M489.9,299.0 L492.4,299.0 M490.9,313.1 L492.4,313.1 M489.9,327.1 L492.4,327.1 M490.9,341.2 L492.4,341.2 M489.9,355.2 L492.4,355.2 M492.4,355.2 L492.4,357.7 M507.2,355.2 L507.2,357.0 M522.0,355.2 L522.0,357.7 M536.7,355.2 L536.7,357.0 M551.5,355.2 L551.5,357.7 M566.3,355.2 L566.3,357.0 M581.1,355.2 L581.1,357.7 M595.9,355.2 L595.9,357.0 M610.6,355.2 L610.6,357.7 M625.4,355.2 L625.4,357.0 M640.2,355.2 L640.2,357.7 " stroke="#333" stroke-width="0.9"/>
<text x="566.6" y="380.0" font-size="10.8" text-anchor="middle" fill="#1a1a1a" stroke="#1a1a1a" stroke-width="0.12" textLength="104.5" lengthAdjust="spacingAndGlyphs">Linear power (kW/m)</text>
<text transform="translate(469.3,292.4) rotate(-90)" x="0" y="0" font-size="11" text-anchor="middle" fill="#1a1a1a" textLength="153" lengthAdjust="spacingAndGlyphs">Oxygen concentration (lg.wt.%)</text>
<rect x="642.5" y="214.7" width="13.299999999999955" height="140.5" fill="url(#cb244)" stroke="#8a8a8a" stroke-width="0.8"/>
<text x="662.3" y="219.8" font-size="8.6" text-anchor="start" fill="#222">0.871</text>
<text x="662.3" y="247.1" font-size="8.6" text-anchor="start" fill="#222">0.831</text>
<text x="662.3" y="274.4" font-size="8.6" text-anchor="start" fill="#222">0.790</text>
<text x="662.3" y="301.8" font-size="8.6" text-anchor="start" fill="#222">0.750</text>
<text x="662.3" y="329.1" font-size="8.6" text-anchor="start" fill="#222">0.709</text>
<text x="662.3" y="356.4" font-size="8.6" text-anchor="start" fill="#222">0.669</text>
<path d="M655.8,216.7 L658.3,216.7 M655.8,244.0 L658.3,244.0 M655.8,271.3 L658.3,271.3 M655.8,298.7 L658.3,298.7 M655.8,326.0 L658.3,326.0 M655.8,353.3 L658.3,353.3 " stroke="#555" stroke-width="0.9"/>
<text transform="translate(2.07,15.3) scale(0.81,1)" x="0" y="0" font-size="22" fill="#111">a</text>
<text transform="translate(233.8,17.5) scale(1.05,1)" x="0" y="0" font-size="22" fill="#111">b</text>
<text transform="translate(459.2,14.1) scale(0.97,1)" x="0" y="0" font-size="22" fill="#111">c</text>
<text transform="translate(1.0,208.6) scale(1.02,1)" x="0" y="0" font-size="22" fill="#111">d</text>
<text transform="translate(233.1,208.6) scale(0.91,1)" x="0" y="0" font-size="22" fill="#111">e</text>
<text transform="translate(461.7,212.6) scale(1.26,1)" x="0" y="0" font-size="22" fill="#111">f</text>
<text x="21.8" y="14.0" font-size="10.6" text-anchor="start" fill="#1a1a1a" stroke="#1a1a1a" stroke-width="0.12" textLength="193.6" lengthAdjust="spacingAndGlyphs">Average magnetite layer thickness (μm)</text>
<text x="257.3" y="14.0" font-size="10.6" text-anchor="start" fill="#1a1a1a" stroke="#1a1a1a" stroke-width="0.12" textLength="172.5" lengthAdjust="spacingAndGlyphs">Average spinal layer thickness (μm)</text>
<text x="482.3" y="12.7" font-size="10.6" text-anchor="start" fill="#1a1a1a" stroke="#1a1a1a" stroke-width="0.12" textLength="180.4" lengthAdjust="spacingAndGlyphs">Minimum spinal layer thickness (μm)</text>
<text x="34.6" y="204.7" font-size="10.6" text-anchor="start" fill="#1a1a1a" stroke="#1a1a1a" stroke-width="0.12" textLength="149.4" lengthAdjust="spacingAndGlyphs">Peak cladding temperature (K)</text>
<text x="283.8" y="207.6" font-size="10.6" text-anchor="start" fill="#1a1a1a" stroke="#1a1a1a" stroke-width="0.12" textLength="115.3" lengthAdjust="spacingAndGlyphs">Cladding axial strain (%)</text>
<text x="525.4" y="208.8" font-size="10.6" text-anchor="start" fill="#1a1a1a" stroke="#1a1a1a" stroke-width="0.12" textLength="94.3" lengthAdjust="spacingAndGlyphs">Gas pressure (MPa)</text>
</svg></body></html>
